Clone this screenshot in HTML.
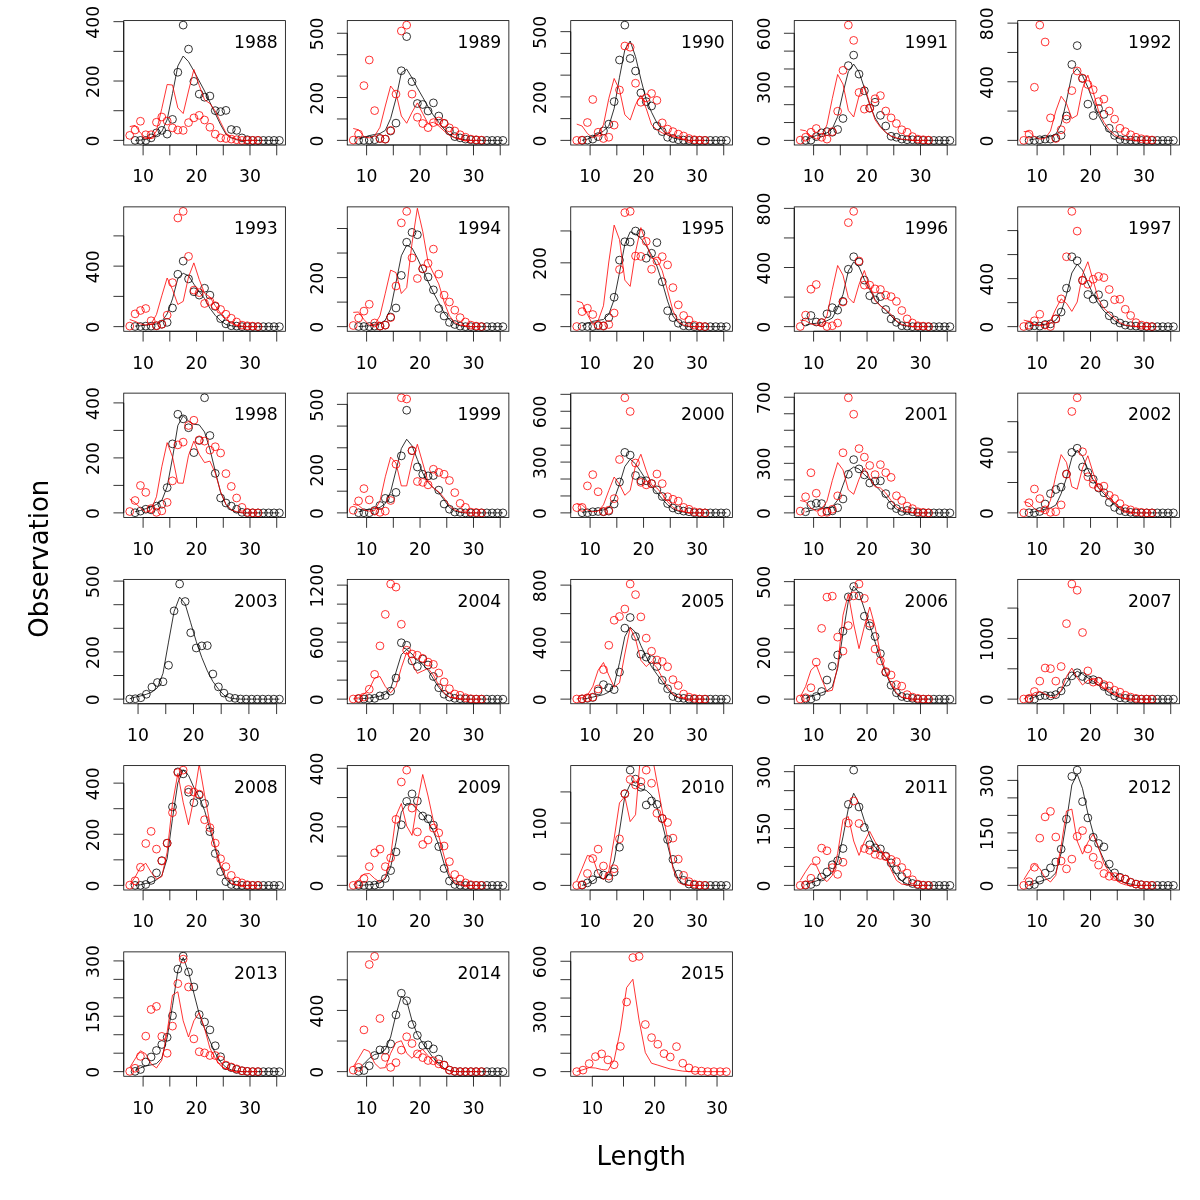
<!DOCTYPE html><html><head><meta charset="utf-8"><title>Length</title><style>html,body{margin:0;padding:0;background:#fff}svg{display:block}text{font-family:"DejaVu Sans","Liberation Sans",sans-serif;fill:#000}</style></head><body>
<svg width="1200" height="1200" viewBox="0 0 1200 1200">
<rect width="1200" height="1200" fill="#fff"/>
<defs>
<clipPath id="c0"><rect x="123.75" y="20.62" width="161.62" height="124.38"/></clipPath>
<clipPath id="c1"><rect x="347.25" y="20.62" width="161.62" height="124.38"/></clipPath>
<clipPath id="c2"><rect x="570.75" y="20.62" width="161.62" height="124.38"/></clipPath>
<clipPath id="c3"><rect x="794.25" y="20.62" width="161.62" height="124.38"/></clipPath>
<clipPath id="c4"><rect x="1017.75" y="20.62" width="161.62" height="124.38"/></clipPath>
<clipPath id="c5"><rect x="123.75" y="206.88" width="161.62" height="124.38"/></clipPath>
<clipPath id="c6"><rect x="347.25" y="206.88" width="161.62" height="124.38"/></clipPath>
<clipPath id="c7"><rect x="570.75" y="206.88" width="161.62" height="124.38"/></clipPath>
<clipPath id="c8"><rect x="794.25" y="206.88" width="161.62" height="124.38"/></clipPath>
<clipPath id="c9"><rect x="1017.75" y="206.88" width="161.62" height="124.38"/></clipPath>
<clipPath id="c10"><rect x="123.75" y="393.12" width="161.62" height="124.38"/></clipPath>
<clipPath id="c11"><rect x="347.25" y="393.12" width="161.62" height="124.38"/></clipPath>
<clipPath id="c12"><rect x="570.75" y="393.12" width="161.62" height="124.38"/></clipPath>
<clipPath id="c13"><rect x="794.25" y="393.12" width="161.62" height="124.38"/></clipPath>
<clipPath id="c14"><rect x="1017.75" y="393.12" width="161.62" height="124.38"/></clipPath>
<clipPath id="c15"><rect x="123.75" y="579.38" width="161.62" height="124.38"/></clipPath>
<clipPath id="c16"><rect x="347.25" y="579.38" width="161.62" height="124.38"/></clipPath>
<clipPath id="c17"><rect x="570.75" y="579.38" width="161.62" height="124.38"/></clipPath>
<clipPath id="c18"><rect x="794.25" y="579.38" width="161.62" height="124.38"/></clipPath>
<clipPath id="c19"><rect x="1017.75" y="579.38" width="161.62" height="124.38"/></clipPath>
<clipPath id="c20"><rect x="123.75" y="765.62" width="161.62" height="124.38"/></clipPath>
<clipPath id="c21"><rect x="347.25" y="765.62" width="161.62" height="124.38"/></clipPath>
<clipPath id="c22"><rect x="570.75" y="765.62" width="161.62" height="124.38"/></clipPath>
<clipPath id="c23"><rect x="794.25" y="765.62" width="161.62" height="124.38"/></clipPath>
<clipPath id="c24"><rect x="1017.75" y="765.62" width="161.62" height="124.38"/></clipPath>
<clipPath id="c25"><rect x="123.75" y="951.88" width="161.62" height="124.38"/></clipPath>
<clipPath id="c26"><rect x="347.25" y="951.88" width="161.62" height="124.38"/></clipPath>
<clipPath id="c27"><rect x="570.75" y="951.88" width="161.62" height="124.38"/></clipPath>
</defs>
<g fill="none" stroke-width="0.8">
<g clip-path="url(#c0)">
<g stroke="#000">
<circle cx="135.08" cy="140.38" r="3.9"/>
<circle cx="140.43" cy="140.38" r="3.9"/>
<circle cx="145.77" cy="140.38" r="3.9"/>
<circle cx="151.12" cy="137.88" r="3.9"/>
<circle cx="156.46" cy="132.88" r="3.9"/>
<circle cx="161.8" cy="130.38" r="3.9"/>
<circle cx="167.15" cy="134.12" r="3.9"/>
<circle cx="172.49" cy="119.38" r="3.9"/>
<circle cx="177.84" cy="72.25" r="3.9"/>
<circle cx="183.18" cy="25.12" r="3.9"/>
<circle cx="188.53" cy="49.12" r="3.9"/>
<circle cx="193.87" cy="81.38" r="3.9"/>
<circle cx="199.22" cy="94.12" r="3.9"/>
<circle cx="204.56" cy="97.25" r="3.9"/>
<circle cx="209.91" cy="96" r="3.9"/>
<circle cx="215.25" cy="110.62" r="3.9"/>
<circle cx="220.6" cy="111.62" r="3.9"/>
<circle cx="225.94" cy="110.38" r="3.9"/>
<circle cx="231.29" cy="129.5" r="3.9"/>
<circle cx="236.63" cy="130.38" r="3.9"/>
<circle cx="241.98" cy="137.88" r="3.9"/>
<circle cx="247.32" cy="139.75" r="3.9"/>
<circle cx="252.67" cy="140.39" r="3.9"/>
<circle cx="258.01" cy="140.39" r="3.9"/>
<circle cx="263.35" cy="140.39" r="3.9"/>
<circle cx="268.7" cy="140.39" r="3.9"/>
<circle cx="274.04" cy="140.39" r="3.9"/>
<circle cx="279.39" cy="140.39" r="3.9"/>
</g>
<polyline stroke="#000" points="135.08,140.38 140.43,140.12 145.77,139.5 151.12,137.25 156.46,135.38 161.8,131.62 167.15,119.75 172.49,93.5 177.84,66 183.18,56 188.53,61.62 193.87,71 199.22,81 204.56,91 209.91,102.25 215.25,113.5 220.6,124.75 225.94,134.12 231.29,137.88 236.63,139.75 241.98,140.39 247.32,140.39 252.67,140.39 258.01,140.39 263.35,140.39 268.7,140.39 274.04,140.39 279.39,140.39"/>
<g stroke="#f00">
<circle cx="129.74" cy="135.38" r="3.9"/>
<circle cx="135.08" cy="130" r="3.9"/>
<circle cx="140.43" cy="121.25" r="3.9"/>
<circle cx="145.77" cy="134.75" r="3.9"/>
<circle cx="151.12" cy="134.75" r="3.9"/>
<circle cx="156.46" cy="122.25" r="3.9"/>
<circle cx="161.8" cy="117" r="3.9"/>
<circle cx="167.15" cy="121" r="3.9"/>
<circle cx="172.49" cy="127.88" r="3.9"/>
<circle cx="177.84" cy="130" r="3.9"/>
<circle cx="183.18" cy="130.38" r="3.9"/>
<circle cx="188.53" cy="122.62" r="3.9"/>
<circle cx="193.87" cy="117.88" r="3.9"/>
<circle cx="199.22" cy="115.38" r="3.9"/>
<circle cx="204.56" cy="120" r="3.9"/>
<circle cx="209.91" cy="127.25" r="3.9"/>
<circle cx="215.25" cy="134.12" r="3.9"/>
<circle cx="220.6" cy="137.88" r="3.9"/>
<circle cx="225.94" cy="138.5" r="3.9"/>
<circle cx="231.29" cy="139.12" r="3.9"/>
<circle cx="236.63" cy="139.75" r="3.9"/>
<circle cx="241.98" cy="140.39" r="3.9"/>
<circle cx="247.32" cy="140.39" r="3.9"/>
<circle cx="252.67" cy="140.39" r="3.9"/>
<circle cx="258.01" cy="140.39" r="3.9"/>
</g>
<polyline stroke="#f00" points="129.74,126.62 135.08,125.38 140.43,132.88 145.77,137.88 151.12,138.5 156.46,131 161.8,108.5 167.15,84.5 172.49,85 177.84,107.88 183.18,113.5 188.53,91 193.87,69.5 199.22,85.38 204.56,99.75 209.91,103.5 215.25,111 220.6,122.25 225.94,132.88 231.29,137.25 236.63,139.12 241.98,140.39 247.32,140.39 252.67,140.39 258.01,140.39"/>
</g>
<rect x="123.75" y="20.62" width="161.62" height="124.38" stroke="#000"/>
<path stroke="#000" d="M143.1 145v10.31M169.82 145v10.31M196.55 145v10.31M223.27 145v10.31M249.99 145v10.31M276.72 145v10.31M143.1 145H276.72M123.75 140.39h-10.31M123.75 110.71h-10.31M123.75 81.03h-10.31M123.75 51.35h-10.31M123.75 21.67h-10.31M123.75 140.39V21.67"/>
</g>
<g font-size="17.2" text-anchor="middle">
<text x="143.1" y="182.43">10</text>
<text x="196.55" y="182.43">20</text>
<text x="249.99" y="182.43">30</text>
<text transform="translate(99.4 140.99) rotate(-90)">0</text>
<text transform="translate(99.4 81.63) rotate(-90)">200</text>
<text transform="translate(99.4 22.27) rotate(-90)">400</text>
<text x="277.77" y="47.83" text-anchor="end">1988</text>
</g>
<g fill="none" stroke-width="0.8">
<g clip-path="url(#c1)">
<g stroke="#000">
<circle cx="358.58" cy="140.38" r="3.9"/>
<circle cx="363.93" cy="140.38" r="3.9"/>
<circle cx="369.27" cy="140" r="3.9"/>
<circle cx="374.62" cy="139.75" r="3.9"/>
<circle cx="379.96" cy="138.5" r="3.9"/>
<circle cx="385.3" cy="139.12" r="3.9"/>
<circle cx="390.65" cy="131" r="3.9"/>
<circle cx="395.99" cy="123.12" r="3.9"/>
<circle cx="401.34" cy="70.75" r="3.9"/>
<circle cx="406.68" cy="36.62" r="3.9"/>
<circle cx="412.03" cy="81.62" r="3.9"/>
<circle cx="417.37" cy="103.5" r="3.9"/>
<circle cx="422.72" cy="104.5" r="3.9"/>
<circle cx="428.06" cy="111" r="3.9"/>
<circle cx="433.41" cy="102.88" r="3.9"/>
<circle cx="438.75" cy="116" r="3.9"/>
<circle cx="444.1" cy="123.5" r="3.9"/>
<circle cx="449.44" cy="131" r="3.9"/>
<circle cx="454.79" cy="136.62" r="3.9"/>
<circle cx="460.13" cy="137.88" r="3.9"/>
<circle cx="465.48" cy="139.12" r="3.9"/>
<circle cx="470.82" cy="139.75" r="3.9"/>
<circle cx="476.17" cy="140.12" r="3.9"/>
<circle cx="481.51" cy="140.39" r="3.9"/>
<circle cx="486.85" cy="140.39" r="3.9"/>
<circle cx="492.2" cy="140.39" r="3.9"/>
<circle cx="497.54" cy="140.39" r="3.9"/>
<circle cx="502.89" cy="140.39" r="3.9"/>
</g>
<polyline stroke="#000" points="358.58,139.12 363.93,137.25 369.27,135.62 374.62,134.5 379.96,133.5 385.3,130.38 390.65,118.5 395.99,98.5 401.34,72.88 406.68,69.12 412.03,77.88 417.37,87.88 422.72,97.25 428.06,106.62 433.41,115.38 438.75,122.25 444.1,129.12 449.44,134.75 454.79,137.5 460.13,139.12 465.48,139.75 470.82,140.39 476.17,140.39 481.51,140.39 486.85,140.39 492.2,140.39 497.54,140.39 502.89,140.39"/>
<g stroke="#f00">
<circle cx="353.24" cy="140.12" r="3.9"/>
<circle cx="358.58" cy="134.12" r="3.9"/>
<circle cx="363.93" cy="85.62" r="3.9"/>
<circle cx="369.27" cy="60" r="3.9"/>
<circle cx="374.62" cy="110.62" r="3.9"/>
<circle cx="379.96" cy="138.5" r="3.9"/>
<circle cx="385.3" cy="139.12" r="3.9"/>
<circle cx="390.65" cy="130.38" r="3.9"/>
<circle cx="395.99" cy="94.12" r="3.9"/>
<circle cx="401.34" cy="31" r="3.9"/>
<circle cx="406.68" cy="25.12" r="3.9"/>
<circle cx="412.03" cy="94.12" r="3.9"/>
<circle cx="417.37" cy="117.25" r="3.9"/>
<circle cx="422.72" cy="123.5" r="3.9"/>
<circle cx="428.06" cy="127.62" r="3.9"/>
<circle cx="433.41" cy="122.62" r="3.9"/>
<circle cx="438.75" cy="121" r="3.9"/>
<circle cx="444.1" cy="123.25" r="3.9"/>
<circle cx="449.44" cy="127.88" r="3.9"/>
<circle cx="454.79" cy="131" r="3.9"/>
<circle cx="460.13" cy="134.75" r="3.9"/>
<circle cx="465.48" cy="137.25" r="3.9"/>
<circle cx="470.82" cy="139.12" r="3.9"/>
<circle cx="476.17" cy="139.75" r="3.9"/>
<circle cx="481.51" cy="140.12" r="3.9"/>
</g>
<polyline stroke="#f00" points="353.24,128.5 358.58,129.75 363.93,136.62 369.27,137.88 374.62,136 379.96,127.25 385.3,106 390.65,86 395.99,92.88 401.34,116 406.68,123.25 412.03,112.25 417.37,102.88 422.72,113.5 428.06,123.5 433.41,122.25 438.75,126 444.1,131 449.44,135.38 454.79,137.88 460.13,139.5 465.48,140.39 470.82,140.39 476.17,140.39 481.51,140.39"/>
</g>
<rect x="347.25" y="20.62" width="161.62" height="124.38" stroke="#000"/>
<path stroke="#000" d="M366.6 145v10.31M393.32 145v10.31M420.05 145v10.31M446.77 145v10.31M473.49 145v10.31M500.22 145v10.31M366.6 145H500.22M347.25 140.39h-10.31M347.25 118.96h-10.31M347.25 97.53h-10.31M347.25 76.11h-10.31M347.25 54.68h-10.31M347.25 33.25h-10.31M347.25 140.39V33.25"/>
</g>
<g font-size="17.2" text-anchor="middle">
<text x="366.6" y="182.43">10</text>
<text x="420.05" y="182.43">20</text>
<text x="473.49" y="182.43">30</text>
<text transform="translate(322.9 140.99) rotate(-90)">0</text>
<text transform="translate(322.9 98.13) rotate(-90)">200</text>
<text transform="translate(322.9 33.85) rotate(-90)">500</text>
<text x="501.27" y="47.83" text-anchor="end">1989</text>
</g>
<g fill="none" stroke-width="0.8">
<g clip-path="url(#c2)">
<g stroke="#000">
<circle cx="582.08" cy="140.38" r="3.9"/>
<circle cx="587.43" cy="140.12" r="3.9"/>
<circle cx="592.77" cy="139.12" r="3.9"/>
<circle cx="598.12" cy="136.62" r="3.9"/>
<circle cx="603.46" cy="131" r="3.9"/>
<circle cx="608.8" cy="124.12" r="3.9"/>
<circle cx="614.15" cy="101.62" r="3.9"/>
<circle cx="619.49" cy="60" r="3.9"/>
<circle cx="624.84" cy="25.12" r="3.9"/>
<circle cx="630.18" cy="58.5" r="3.9"/>
<circle cx="635.53" cy="71" r="3.9"/>
<circle cx="640.87" cy="92.88" r="3.9"/>
<circle cx="646.22" cy="101.62" r="3.9"/>
<circle cx="651.56" cy="106" r="3.9"/>
<circle cx="656.91" cy="126" r="3.9"/>
<circle cx="662.25" cy="131.62" r="3.9"/>
<circle cx="667.6" cy="137.25" r="3.9"/>
<circle cx="672.94" cy="138.5" r="3.9"/>
<circle cx="678.29" cy="139.75" r="3.9"/>
<circle cx="683.63" cy="140.12" r="3.9"/>
<circle cx="688.98" cy="140.39" r="3.9"/>
<circle cx="694.32" cy="140.39" r="3.9"/>
<circle cx="699.67" cy="140.39" r="3.9"/>
<circle cx="705.01" cy="140.39" r="3.9"/>
<circle cx="710.35" cy="140.39" r="3.9"/>
<circle cx="715.7" cy="140.39" r="3.9"/>
<circle cx="721.04" cy="140.39" r="3.9"/>
<circle cx="726.39" cy="140.39" r="3.9"/>
</g>
<polyline stroke="#000" points="582.08,140.38 587.43,139.12 592.77,136.62 598.12,134.12 603.46,131 608.8,126 614.15,108.5 619.49,77.25 624.84,49.75 630.18,41 635.53,56.62 640.87,79.12 646.22,99.75 651.56,112.25 656.91,122.88 662.25,130 667.6,135.12 672.94,137.88 678.29,139.12 683.63,139.75 688.98,140.39 694.32,140.39 699.67,140.39 705.01,140.39 710.35,140.39 715.7,140.39 721.04,140.39 726.39,140.39"/>
<g stroke="#f00">
<circle cx="576.74" cy="140.38" r="3.9"/>
<circle cx="582.08" cy="140.12" r="3.9"/>
<circle cx="587.43" cy="122.5" r="3.9"/>
<circle cx="592.77" cy="99.5" r="3.9"/>
<circle cx="598.12" cy="132.25" r="3.9"/>
<circle cx="603.46" cy="138.5" r="3.9"/>
<circle cx="608.8" cy="137.25" r="3.9"/>
<circle cx="614.15" cy="125.12" r="3.9"/>
<circle cx="619.49" cy="90" r="3.9"/>
<circle cx="624.84" cy="46" r="3.9"/>
<circle cx="630.18" cy="47.25" r="3.9"/>
<circle cx="635.53" cy="83.25" r="3.9"/>
<circle cx="640.87" cy="102.25" r="3.9"/>
<circle cx="646.22" cy="97.88" r="3.9"/>
<circle cx="651.56" cy="93.5" r="3.9"/>
<circle cx="656.91" cy="100.38" r="3.9"/>
<circle cx="662.25" cy="122.88" r="3.9"/>
<circle cx="667.6" cy="129.12" r="3.9"/>
<circle cx="672.94" cy="131.62" r="3.9"/>
<circle cx="678.29" cy="134.12" r="3.9"/>
<circle cx="683.63" cy="136" r="3.9"/>
<circle cx="688.98" cy="138.5" r="3.9"/>
<circle cx="694.32" cy="139.75" r="3.9"/>
<circle cx="699.67" cy="140.12" r="3.9"/>
<circle cx="705.01" cy="140.39" r="3.9"/>
</g>
<polyline stroke="#f00" points="576.74,124.12 582.08,126 587.43,133.5 592.77,137.88 598.12,134.75 603.46,124.75 608.8,98.5 614.15,78.5 619.49,89.75 624.84,114.75 630.18,120 635.53,104.75 640.87,95.38 646.22,108.5 651.56,124.75 656.91,129.75 662.25,132.88 667.6,134.75 672.94,136.62 678.29,137.88 683.63,139.12 688.98,140.39 694.32,140.39 699.67,140.39 705.01,140.39"/>
</g>
<rect x="570.75" y="20.62" width="161.62" height="124.38" stroke="#000"/>
<path stroke="#000" d="M590.1 145v10.31M616.82 145v10.31M643.55 145v10.31M670.27 145v10.31M696.99 145v10.31M723.72 145v10.31M590.1 145H723.72M570.75 140.39h-10.31M570.75 118.64h-10.31M570.75 96.9h-10.31M570.75 75.15h-10.31M570.75 53.4h-10.31M570.75 31.65h-10.31M570.75 140.39V31.65"/>
</g>
<g font-size="17.2" text-anchor="middle">
<text x="590.1" y="182.43">10</text>
<text x="643.55" y="182.43">20</text>
<text x="696.99" y="182.43">30</text>
<text transform="translate(546.4 140.99) rotate(-90)">0</text>
<text transform="translate(546.4 97.5) rotate(-90)">200</text>
<text transform="translate(546.4 32.25) rotate(-90)">500</text>
<text x="724.77" y="47.83" text-anchor="end">1990</text>
</g>
<g fill="none" stroke-width="0.8">
<g clip-path="url(#c3)">
<g stroke="#000">
<circle cx="805.58" cy="140.38" r="3.9"/>
<circle cx="810.93" cy="140.12" r="3.9"/>
<circle cx="816.27" cy="136.62" r="3.9"/>
<circle cx="821.62" cy="132.88" r="3.9"/>
<circle cx="826.96" cy="131.62" r="3.9"/>
<circle cx="832.3" cy="132.25" r="3.9"/>
<circle cx="837.65" cy="129.5" r="3.9"/>
<circle cx="842.99" cy="118.5" r="3.9"/>
<circle cx="848.34" cy="65.62" r="3.9"/>
<circle cx="853.68" cy="55.12" r="3.9"/>
<circle cx="859.03" cy="74.12" r="3.9"/>
<circle cx="864.37" cy="90.75" r="3.9"/>
<circle cx="869.72" cy="108.25" r="3.9"/>
<circle cx="875.06" cy="102.25" r="3.9"/>
<circle cx="880.41" cy="115.38" r="3.9"/>
<circle cx="885.75" cy="126" r="3.9"/>
<circle cx="891.1" cy="136.25" r="3.9"/>
<circle cx="896.44" cy="137.25" r="3.9"/>
<circle cx="901.79" cy="139.12" r="3.9"/>
<circle cx="907.13" cy="139.75" r="3.9"/>
<circle cx="912.48" cy="139.75" r="3.9"/>
<circle cx="917.82" cy="140.12" r="3.9"/>
<circle cx="923.17" cy="140.39" r="3.9"/>
<circle cx="928.51" cy="140.39" r="3.9"/>
<circle cx="933.85" cy="140.39" r="3.9"/>
<circle cx="939.2" cy="140.39" r="3.9"/>
<circle cx="944.54" cy="140.39" r="3.9"/>
<circle cx="949.89" cy="140.39" r="3.9"/>
</g>
<polyline stroke="#000" points="805.58,140.12 810.93,137.88 816.27,135.38 821.62,134.12 826.96,132.88 832.3,128.75 837.65,116.62 842.99,92.88 848.34,71.62 853.68,64.12 859.03,72 864.37,87.88 869.72,104.75 875.06,117.88 880.41,126.38 885.75,132.5 891.1,136.25 896.44,138.25 901.79,139.5 907.13,140 912.48,140.39 917.82,140.39 923.17,140.39 928.51,140.39 933.85,140.39 939.2,140.39 944.54,140.39 949.89,140.39"/>
<g stroke="#f00">
<circle cx="800.24" cy="140.12" r="3.9"/>
<circle cx="805.58" cy="137.25" r="3.9"/>
<circle cx="810.93" cy="132.25" r="3.9"/>
<circle cx="816.27" cy="128.5" r="3.9"/>
<circle cx="821.62" cy="137.25" r="3.9"/>
<circle cx="826.96" cy="139.12" r="3.9"/>
<circle cx="832.3" cy="131.62" r="3.9"/>
<circle cx="837.65" cy="111.25" r="3.9"/>
<circle cx="842.99" cy="70.38" r="3.9"/>
<circle cx="848.34" cy="25.12" r="3.9"/>
<circle cx="853.68" cy="40.38" r="3.9"/>
<circle cx="859.03" cy="92.5" r="3.9"/>
<circle cx="864.37" cy="109.12" r="3.9"/>
<circle cx="869.72" cy="107.88" r="3.9"/>
<circle cx="875.06" cy="98.75" r="3.9"/>
<circle cx="880.41" cy="95.62" r="3.9"/>
<circle cx="885.75" cy="111" r="3.9"/>
<circle cx="891.1" cy="117.88" r="3.9"/>
<circle cx="896.44" cy="123.5" r="3.9"/>
<circle cx="901.79" cy="129.75" r="3.9"/>
<circle cx="907.13" cy="132.25" r="3.9"/>
<circle cx="912.48" cy="136.62" r="3.9"/>
<circle cx="917.82" cy="139.12" r="3.9"/>
<circle cx="923.17" cy="139.75" r="3.9"/>
<circle cx="928.51" cy="140.12" r="3.9"/>
</g>
<polyline stroke="#f00" points="800.24,129.75 805.58,130.75 810.93,136 816.27,139.12 821.62,136.62 826.96,124.75 832.3,98.5 837.65,74.5 842.99,84.12 848.34,110.38 853.68,117 859.03,96 864.37,85.75 869.72,103.5 875.06,119.75 880.41,127.25 885.75,132.25 891.1,136 896.44,137.88 901.79,139.12 907.13,139.75 912.48,140.39 917.82,140.39 923.17,140.39 928.51,140.39"/>
</g>
<rect x="794.25" y="20.62" width="161.62" height="124.38" stroke="#000"/>
<path stroke="#000" d="M813.6 145v10.31M840.32 145v10.31M867.05 145v10.31M893.77 145v10.31M920.49 145v10.31M947.22 145v10.31M813.6 145H947.22M794.25 140.39h-10.31M794.25 122.54h-10.31M794.25 104.68h-10.31M794.25 86.83h-10.31M794.25 68.98h-10.31M794.25 51.12h-10.31M794.25 33.27h-10.31M794.25 140.39V33.27"/>
</g>
<g font-size="17.2" text-anchor="middle">
<text x="813.6" y="182.43">10</text>
<text x="867.05" y="182.43">20</text>
<text x="920.49" y="182.43">30</text>
<text transform="translate(769.9 140.99) rotate(-90)">0</text>
<text transform="translate(769.9 87.43) rotate(-90)">300</text>
<text transform="translate(769.9 33.87) rotate(-90)">600</text>
<text x="948.27" y="47.83" text-anchor="end">1991</text>
</g>
<g fill="none" stroke-width="0.8">
<g clip-path="url(#c4)">
<g stroke="#000">
<circle cx="1029.08" cy="140.38" r="3.9"/>
<circle cx="1034.43" cy="140.38" r="3.9"/>
<circle cx="1039.77" cy="139.75" r="3.9"/>
<circle cx="1045.12" cy="139.12" r="3.9"/>
<circle cx="1050.46" cy="139.12" r="3.9"/>
<circle cx="1055.8" cy="137.88" r="3.9"/>
<circle cx="1061.15" cy="135.38" r="3.9"/>
<circle cx="1066.49" cy="116" r="3.9"/>
<circle cx="1071.84" cy="64.5" r="3.9"/>
<circle cx="1077.18" cy="45.62" r="3.9"/>
<circle cx="1082.53" cy="78.5" r="3.9"/>
<circle cx="1087.87" cy="104.12" r="3.9"/>
<circle cx="1093.22" cy="115.62" r="3.9"/>
<circle cx="1098.56" cy="108.5" r="3.9"/>
<circle cx="1103.91" cy="114.38" r="3.9"/>
<circle cx="1109.25" cy="128.25" r="3.9"/>
<circle cx="1114.6" cy="135.38" r="3.9"/>
<circle cx="1119.94" cy="139.5" r="3.9"/>
<circle cx="1125.29" cy="139.75" r="3.9"/>
<circle cx="1130.63" cy="140.12" r="3.9"/>
<circle cx="1135.98" cy="140.39" r="3.9"/>
<circle cx="1141.32" cy="140.39" r="3.9"/>
<circle cx="1146.67" cy="140.39" r="3.9"/>
<circle cx="1152.01" cy="140.39" r="3.9"/>
<circle cx="1157.35" cy="140.39" r="3.9"/>
<circle cx="1162.7" cy="140.39" r="3.9"/>
<circle cx="1168.04" cy="140.39" r="3.9"/>
<circle cx="1173.39" cy="140.39" r="3.9"/>
</g>
<polyline stroke="#000" points="1029.08,140.12 1034.43,139.12 1039.77,137.88 1045.12,137.25 1050.46,136.62 1055.8,134.38 1061.15,124.12 1066.49,101 1071.84,74.75 1077.18,68.5 1082.53,75.75 1087.87,87.25 1093.22,101.62 1098.56,115.38 1103.91,125.38 1109.25,132.25 1114.6,136.62 1119.94,138.88 1125.29,139.75 1130.63,140.39 1135.98,140.39 1141.32,140.39 1146.67,140.39 1152.01,140.39 1157.35,140.39 1162.7,140.39 1168.04,140.39 1173.39,140.39"/>
<g stroke="#f00">
<circle cx="1023.74" cy="140.38" r="3.9"/>
<circle cx="1029.08" cy="134.12" r="3.9"/>
<circle cx="1034.43" cy="87.25" r="3.9"/>
<circle cx="1039.77" cy="25.12" r="3.9"/>
<circle cx="1045.12" cy="42" r="3.9"/>
<circle cx="1050.46" cy="117.88" r="3.9"/>
<circle cx="1055.8" cy="138.5" r="3.9"/>
<circle cx="1061.15" cy="129.75" r="3.9"/>
<circle cx="1066.49" cy="119.12" r="3.9"/>
<circle cx="1071.84" cy="90.62" r="3.9"/>
<circle cx="1077.18" cy="71" r="3.9"/>
<circle cx="1082.53" cy="78.12" r="3.9"/>
<circle cx="1087.87" cy="84.5" r="3.9"/>
<circle cx="1093.22" cy="89.75" r="3.9"/>
<circle cx="1098.56" cy="101.62" r="3.9"/>
<circle cx="1103.91" cy="99.12" r="3.9"/>
<circle cx="1109.25" cy="111" r="3.9"/>
<circle cx="1114.6" cy="119.12" r="3.9"/>
<circle cx="1119.94" cy="128.25" r="3.9"/>
<circle cx="1125.29" cy="131.62" r="3.9"/>
<circle cx="1130.63" cy="134.75" r="3.9"/>
<circle cx="1135.98" cy="137.25" r="3.9"/>
<circle cx="1141.32" cy="138.75" r="3.9"/>
<circle cx="1146.67" cy="139.5" r="3.9"/>
<circle cx="1152.01" cy="140" r="3.9"/>
</g>
<polyline stroke="#f00" points="1023.74,131.62 1029.08,131.62 1034.43,136.62 1039.77,139.12 1045.12,138.5 1050.46,131 1055.8,111 1061.15,96.25 1066.49,103.5 1071.84,118.5 1077.18,115.38 1082.53,88.5 1087.87,75.12 1093.22,92.25 1098.56,111 1103.91,122.25 1109.25,129.75 1114.6,134.75 1119.94,137.5 1125.29,139.12 1130.63,139.75 1135.98,140.39 1141.32,140.39 1146.67,140.39 1152.01,140.39"/>
</g>
<rect x="1017.75" y="20.62" width="161.62" height="124.38" stroke="#000"/>
<path stroke="#000" d="M1037.1 145v10.31M1063.82 145v10.31M1090.55 145v10.31M1117.27 145v10.31M1143.99 145v10.31M1170.72 145v10.31M1037.1 145H1170.72M1017.75 140.39h-10.31M1017.75 111.08h-10.31M1017.75 81.76h-10.31M1017.75 52.45h-10.31M1017.75 23.14h-10.31M1017.75 140.39V23.14"/>
</g>
<g font-size="17.2" text-anchor="middle">
<text x="1037.1" y="182.43">10</text>
<text x="1090.55" y="182.43">20</text>
<text x="1143.99" y="182.43">30</text>
<text transform="translate(993.4 140.99) rotate(-90)">0</text>
<text transform="translate(993.4 82.36) rotate(-90)">400</text>
<text transform="translate(993.4 23.74) rotate(-90)">800</text>
<text x="1171.78" y="47.83" text-anchor="end">1992</text>
</g>
<g fill="none" stroke-width="0.8">
<g clip-path="url(#c5)">
<g stroke="#000">
<circle cx="135.08" cy="326.5" r="3.9"/>
<circle cx="140.43" cy="326.5" r="3.9"/>
<circle cx="145.77" cy="326.12" r="3.9"/>
<circle cx="151.12" cy="326.12" r="3.9"/>
<circle cx="156.46" cy="325.75" r="3.9"/>
<circle cx="161.8" cy="324.25" r="3.9"/>
<circle cx="167.15" cy="322.38" r="3.9"/>
<circle cx="172.49" cy="308" r="3.9"/>
<circle cx="177.84" cy="274.25" r="3.9"/>
<circle cx="183.18" cy="261.12" r="3.9"/>
<circle cx="188.53" cy="278.88" r="3.9"/>
<circle cx="193.87" cy="291.75" r="3.9"/>
<circle cx="199.22" cy="295.12" r="3.9"/>
<circle cx="204.56" cy="288.25" r="3.9"/>
<circle cx="209.91" cy="295.12" r="3.9"/>
<circle cx="215.25" cy="306.38" r="3.9"/>
<circle cx="220.6" cy="318.62" r="3.9"/>
<circle cx="225.94" cy="323.88" r="3.9"/>
<circle cx="231.29" cy="325.75" r="3.9"/>
<circle cx="236.63" cy="326.12" r="3.9"/>
<circle cx="241.98" cy="326.64" r="3.9"/>
<circle cx="247.32" cy="326.64" r="3.9"/>
<circle cx="252.67" cy="326.64" r="3.9"/>
<circle cx="258.01" cy="326.64" r="3.9"/>
<circle cx="263.35" cy="326.64" r="3.9"/>
<circle cx="268.7" cy="326.64" r="3.9"/>
<circle cx="274.04" cy="326.64" r="3.9"/>
<circle cx="279.39" cy="326.64" r="3.9"/>
</g>
<polyline stroke="#000" points="135.08,326.12 140.43,325.75 145.77,325.12 151.12,324.5 156.46,323.88 161.8,321.38 167.15,313.88 172.49,298.88 177.84,278.5 183.18,273.25 188.53,275.75 193.87,284.12 199.22,291.62 204.56,298.5 209.91,308.25 215.25,315.38 220.6,320.75 225.94,324.5 231.29,325.75 236.63,326.64 241.98,326.64 247.32,326.64 252.67,326.64 258.01,326.64 263.35,326.64 268.7,326.64 274.04,326.64 279.39,326.64"/>
<g stroke="#f00">
<circle cx="129.74" cy="326.12" r="3.9"/>
<circle cx="135.08" cy="313.88" r="3.9"/>
<circle cx="140.43" cy="310.5" r="3.9"/>
<circle cx="145.77" cy="308.5" r="3.9"/>
<circle cx="151.12" cy="320.75" r="3.9"/>
<circle cx="156.46" cy="325.75" r="3.9"/>
<circle cx="161.8" cy="324.25" r="3.9"/>
<circle cx="167.15" cy="315.12" r="3.9"/>
<circle cx="172.49" cy="282.62" r="3.9"/>
<circle cx="177.84" cy="218" r="3.9"/>
<circle cx="183.18" cy="211.38" r="3.9"/>
<circle cx="188.53" cy="256.38" r="3.9"/>
<circle cx="193.87" cy="290.12" r="3.9"/>
<circle cx="199.22" cy="292.62" r="3.9"/>
<circle cx="204.56" cy="303.5" r="3.9"/>
<circle cx="209.91" cy="301.38" r="3.9"/>
<circle cx="215.25" cy="305.75" r="3.9"/>
<circle cx="220.6" cy="309.5" r="3.9"/>
<circle cx="225.94" cy="314.25" r="3.9"/>
<circle cx="231.29" cy="318.25" r="3.9"/>
<circle cx="236.63" cy="322" r="3.9"/>
<circle cx="241.98" cy="325.12" r="3.9"/>
<circle cx="247.32" cy="325.75" r="3.9"/>
<circle cx="252.67" cy="326.12" r="3.9"/>
<circle cx="258.01" cy="326.64" r="3.9"/>
</g>
<polyline stroke="#f00" points="129.74,319.5 135.08,321.38 140.43,323.88 145.77,325.12 151.12,323.88 156.46,314.5 161.8,295.75 167.15,278 172.49,289.5 177.84,304.5 183.18,301.38 188.53,277 193.87,262.88 199.22,279.5 204.56,293.25 209.91,297 215.25,305.75 220.6,313.25 225.94,319.5 231.29,323.25 236.63,325.12 241.98,326.12 247.32,326.64 252.67,326.64 258.01,326.64"/>
</g>
<rect x="123.75" y="206.88" width="161.62" height="124.38" stroke="#000"/>
<path stroke="#000" d="M143.1 331.25v10.31M169.82 331.25v10.31M196.55 331.25v10.31M223.27 331.25v10.31M249.99 331.25v10.31M276.72 331.25v10.31M143.1 331.25H276.72M123.75 326.64h-10.31M123.75 296.39h-10.31M123.75 266.14h-10.31M123.75 235.89h-10.31M123.75 326.64V235.89"/>
</g>
<g font-size="17.2" text-anchor="middle">
<text x="143.1" y="368.68">10</text>
<text x="196.55" y="368.68">20</text>
<text x="249.99" y="368.68">30</text>
<text transform="translate(99.4 327.24) rotate(-90)">0</text>
<text transform="translate(99.4 266.74) rotate(-90)">400</text>
<text x="277.77" y="234.07" text-anchor="end">1993</text>
</g>
<g fill="none" stroke-width="0.8">
<g clip-path="url(#c6)">
<g stroke="#000">
<circle cx="358.58" cy="326.5" r="3.9"/>
<circle cx="363.93" cy="326.5" r="3.9"/>
<circle cx="369.27" cy="326.5" r="3.9"/>
<circle cx="374.62" cy="326.12" r="3.9"/>
<circle cx="379.96" cy="326.12" r="3.9"/>
<circle cx="385.3" cy="325.12" r="3.9"/>
<circle cx="390.65" cy="317" r="3.9"/>
<circle cx="395.99" cy="308" r="3.9"/>
<circle cx="401.34" cy="275.38" r="3.9"/>
<circle cx="406.68" cy="242.25" r="3.9"/>
<circle cx="412.03" cy="232.38" r="3.9"/>
<circle cx="417.37" cy="234.75" r="3.9"/>
<circle cx="422.72" cy="268.88" r="3.9"/>
<circle cx="428.06" cy="277" r="3.9"/>
<circle cx="433.41" cy="289.88" r="3.9"/>
<circle cx="438.75" cy="308.5" r="3.9"/>
<circle cx="444.1" cy="316" r="3.9"/>
<circle cx="449.44" cy="322.38" r="3.9"/>
<circle cx="454.79" cy="324.5" r="3.9"/>
<circle cx="460.13" cy="326.12" r="3.9"/>
<circle cx="465.48" cy="326.64" r="3.9"/>
<circle cx="470.82" cy="326.64" r="3.9"/>
<circle cx="476.17" cy="326.64" r="3.9"/>
<circle cx="481.51" cy="326.64" r="3.9"/>
<circle cx="486.85" cy="326.64" r="3.9"/>
<circle cx="492.2" cy="326.64" r="3.9"/>
<circle cx="497.54" cy="326.64" r="3.9"/>
<circle cx="502.89" cy="326.64" r="3.9"/>
</g>
<polyline stroke="#000" points="358.58,326.5 363.93,326.25 369.27,325.75 374.62,325.12 379.96,323.88 385.3,320.12 390.65,308.88 395.99,282.62 401.34,255.75 406.68,245.12 412.03,248 417.37,258 422.72,269.88 428.06,281.62 433.41,292.62 438.75,302.62 444.1,312.88 449.44,319.75 454.79,323.88 460.13,325.75 465.48,326.64 470.82,326.64 476.17,326.64 481.51,326.64 486.85,326.64 492.2,326.64 497.54,326.64 502.89,326.64"/>
<g stroke="#f00">
<circle cx="353.24" cy="325.5" r="3.9"/>
<circle cx="358.58" cy="318" r="3.9"/>
<circle cx="363.93" cy="311.12" r="3.9"/>
<circle cx="369.27" cy="304.25" r="3.9"/>
<circle cx="374.62" cy="323" r="3.9"/>
<circle cx="379.96" cy="326.12" r="3.9"/>
<circle cx="385.3" cy="325.12" r="3.9"/>
<circle cx="390.65" cy="317.62" r="3.9"/>
<circle cx="395.99" cy="286" r="3.9"/>
<circle cx="401.34" cy="222.88" r="3.9"/>
<circle cx="406.68" cy="211.38" r="3.9"/>
<circle cx="412.03" cy="257.88" r="3.9"/>
<circle cx="417.37" cy="278.5" r="3.9"/>
<circle cx="422.72" cy="268.62" r="3.9"/>
<circle cx="428.06" cy="263.25" r="3.9"/>
<circle cx="433.41" cy="249.12" r="3.9"/>
<circle cx="438.75" cy="274.12" r="3.9"/>
<circle cx="444.1" cy="295.12" r="3.9"/>
<circle cx="449.44" cy="302" r="3.9"/>
<circle cx="454.79" cy="310.12" r="3.9"/>
<circle cx="460.13" cy="317.62" r="3.9"/>
<circle cx="465.48" cy="322" r="3.9"/>
<circle cx="470.82" cy="325.12" r="3.9"/>
<circle cx="476.17" cy="326.12" r="3.9"/>
<circle cx="481.51" cy="326.64" r="3.9"/>
</g>
<polyline stroke="#f00" points="353.24,312.38 358.58,312 363.93,319.5 369.27,325.12 374.62,324.5 379.96,315.75 385.3,293.25 390.65,270.12 395.99,272.62 401.34,293.5 406.68,287.62 412.03,243.25 417.37,208.25 422.72,231.38 428.06,262 433.41,273.25 438.75,283.88 444.1,302 449.44,315.75 454.79,322.62 460.13,325.12 465.48,326.12 470.82,326.64 476.17,326.64 481.51,326.64"/>
</g>
<rect x="347.25" y="206.88" width="161.62" height="124.38" stroke="#000"/>
<path stroke="#000" d="M366.6 331.25v10.31M393.32 331.25v10.31M420.05 331.25v10.31M446.77 331.25v10.31M473.49 331.25v10.31M500.22 331.25v10.31M366.6 331.25H500.22M347.25 326.64h-10.31M347.25 302.11h-10.31M347.25 277.58h-10.31M347.25 253.04h-10.31M347.25 228.51h-10.31M347.25 326.64V228.51"/>
</g>
<g font-size="17.2" text-anchor="middle">
<text x="366.6" y="368.68">10</text>
<text x="420.05" y="368.68">20</text>
<text x="473.49" y="368.68">30</text>
<text transform="translate(322.9 327.24) rotate(-90)">0</text>
<text transform="translate(322.9 278.18) rotate(-90)">200</text>
<text x="501.27" y="234.07" text-anchor="end">1994</text>
</g>
<g fill="none" stroke-width="0.8">
<g clip-path="url(#c7)">
<g stroke="#000">
<circle cx="582.08" cy="326.5" r="3.9"/>
<circle cx="587.43" cy="326.5" r="3.9"/>
<circle cx="592.77" cy="326.5" r="3.9"/>
<circle cx="598.12" cy="325.75" r="3.9"/>
<circle cx="603.46" cy="325.75" r="3.9"/>
<circle cx="608.8" cy="317.62" r="3.9"/>
<circle cx="614.15" cy="297.25" r="3.9"/>
<circle cx="619.49" cy="260.12" r="3.9"/>
<circle cx="624.84" cy="241.75" r="3.9"/>
<circle cx="630.18" cy="242" r="3.9"/>
<circle cx="635.53" cy="231" r="3.9"/>
<circle cx="640.87" cy="233.25" r="3.9"/>
<circle cx="646.22" cy="258.25" r="3.9"/>
<circle cx="651.56" cy="253.25" r="3.9"/>
<circle cx="656.91" cy="242.62" r="3.9"/>
<circle cx="662.25" cy="281.75" r="3.9"/>
<circle cx="667.6" cy="310.75" r="3.9"/>
<circle cx="672.94" cy="317.62" r="3.9"/>
<circle cx="678.29" cy="323.25" r="3.9"/>
<circle cx="683.63" cy="325.75" r="3.9"/>
<circle cx="688.98" cy="326.12" r="3.9"/>
<circle cx="694.32" cy="326.64" r="3.9"/>
<circle cx="699.67" cy="326.64" r="3.9"/>
<circle cx="705.01" cy="326.64" r="3.9"/>
<circle cx="710.35" cy="326.64" r="3.9"/>
<circle cx="715.7" cy="326.64" r="3.9"/>
<circle cx="721.04" cy="326.64" r="3.9"/>
<circle cx="726.39" cy="326.64" r="3.9"/>
</g>
<polyline stroke="#000" points="582.08,326 587.43,323.25 592.77,321.38 598.12,320.38 603.46,319.5 608.8,314.25 614.15,299.5 619.49,272.62 624.84,244.25 630.18,231.75 635.53,234.12 640.87,238.25 646.22,245.75 651.56,254.88 656.91,266.12 662.25,282.38 667.6,301.12 672.94,316 678.29,322.75 683.63,325.75 688.98,326.64 694.32,326.64 699.67,326.64 705.01,326.64 710.35,326.64 715.7,326.64 721.04,326.64 726.39,326.64"/>
<g stroke="#f00">
<circle cx="576.74" cy="326.5" r="3.9"/>
<circle cx="582.08" cy="311.62" r="3.9"/>
<circle cx="587.43" cy="308.25" r="3.9"/>
<circle cx="592.77" cy="314.5" r="3.9"/>
<circle cx="598.12" cy="325.12" r="3.9"/>
<circle cx="603.46" cy="326.12" r="3.9"/>
<circle cx="608.8" cy="324.5" r="3.9"/>
<circle cx="614.15" cy="313" r="3.9"/>
<circle cx="619.49" cy="269.5" r="3.9"/>
<circle cx="624.84" cy="212.62" r="3.9"/>
<circle cx="630.18" cy="211.38" r="3.9"/>
<circle cx="635.53" cy="256" r="3.9"/>
<circle cx="640.87" cy="256.38" r="3.9"/>
<circle cx="646.22" cy="241.38" r="3.9"/>
<circle cx="651.56" cy="269.25" r="3.9"/>
<circle cx="656.91" cy="261" r="3.9"/>
<circle cx="662.25" cy="256.62" r="3.9"/>
<circle cx="667.6" cy="264.88" r="3.9"/>
<circle cx="672.94" cy="287.62" r="3.9"/>
<circle cx="678.29" cy="304.88" r="3.9"/>
<circle cx="683.63" cy="315.5" r="3.9"/>
<circle cx="688.98" cy="320.12" r="3.9"/>
<circle cx="694.32" cy="325.12" r="3.9"/>
<circle cx="699.67" cy="326.12" r="3.9"/>
<circle cx="705.01" cy="326.64" r="3.9"/>
</g>
<polyline stroke="#f00" points="576.74,301.12 582.08,302.62 587.43,314.5 592.77,324.5 598.12,320.75 603.46,305.75 608.8,262 614.15,225.12 619.49,239.5 624.84,280.12 630.18,286.38 635.53,252 640.87,227.62 646.22,243.25 651.56,258.25 656.91,259.5 662.25,270.75 667.6,290.75 672.94,310.75 678.29,321.38 683.63,325.12 688.98,326.12 694.32,326.64 699.67,326.64 705.01,326.64"/>
</g>
<rect x="570.75" y="206.88" width="161.62" height="124.38" stroke="#000"/>
<path stroke="#000" d="M590.1 331.25v10.31M616.82 331.25v10.31M643.55 331.25v10.31M670.27 331.25v10.31M696.99 331.25v10.31M723.72 331.25v10.31M590.1 331.25H723.72M570.75 326.64h-10.31M570.75 294.74h-10.31M570.75 262.84h-10.31M570.75 230.94h-10.31M570.75 326.64V230.94"/>
</g>
<g font-size="17.2" text-anchor="middle">
<text x="590.1" y="368.68">10</text>
<text x="643.55" y="368.68">20</text>
<text x="696.99" y="368.68">30</text>
<text transform="translate(546.4 327.24) rotate(-90)">0</text>
<text transform="translate(546.4 263.44) rotate(-90)">200</text>
<text x="724.77" y="234.07" text-anchor="end">1995</text>
</g>
<g fill="none" stroke-width="0.8">
<g clip-path="url(#c8)">
<g stroke="#000">
<circle cx="805.58" cy="322" r="3.9"/>
<circle cx="810.93" cy="315.5" r="3.9"/>
<circle cx="816.27" cy="322" r="3.9"/>
<circle cx="821.62" cy="322.62" r="3.9"/>
<circle cx="826.96" cy="313.88" r="3.9"/>
<circle cx="832.3" cy="307.62" r="3.9"/>
<circle cx="837.65" cy="310.12" r="3.9"/>
<circle cx="842.99" cy="301.38" r="3.9"/>
<circle cx="848.34" cy="269.25" r="3.9"/>
<circle cx="853.68" cy="256.75" r="3.9"/>
<circle cx="859.03" cy="262" r="3.9"/>
<circle cx="864.37" cy="280.12" r="3.9"/>
<circle cx="869.72" cy="295.75" r="3.9"/>
<circle cx="875.06" cy="299.88" r="3.9"/>
<circle cx="880.41" cy="296.62" r="3.9"/>
<circle cx="885.75" cy="309.5" r="3.9"/>
<circle cx="891.1" cy="318.88" r="3.9"/>
<circle cx="896.44" cy="322.38" r="3.9"/>
<circle cx="901.79" cy="325.75" r="3.9"/>
<circle cx="907.13" cy="326.12" r="3.9"/>
<circle cx="912.48" cy="326.64" r="3.9"/>
<circle cx="917.82" cy="326.64" r="3.9"/>
<circle cx="923.17" cy="326.64" r="3.9"/>
<circle cx="928.51" cy="326.64" r="3.9"/>
<circle cx="933.85" cy="326.64" r="3.9"/>
<circle cx="939.2" cy="326.64" r="3.9"/>
<circle cx="944.54" cy="326.64" r="3.9"/>
<circle cx="949.89" cy="326.64" r="3.9"/>
</g>
<polyline stroke="#000" points="805.58,325.12 810.93,323.88 816.27,323.25 821.62,322.62 826.96,320.75 832.3,318 837.65,308 842.99,294.5 848.34,271 853.68,262 859.03,267 864.37,279.5 869.72,289.5 875.06,299.5 880.41,305.75 885.75,310.25 891.1,316 896.44,321.5 901.79,325.12 907.13,326.12 912.48,326.64 917.82,326.64 923.17,326.64 928.51,326.64 933.85,326.64 939.2,326.64 944.54,326.64 949.89,326.64"/>
<g stroke="#f00">
<circle cx="800.24" cy="326.5" r="3.9"/>
<circle cx="805.58" cy="315.12" r="3.9"/>
<circle cx="810.93" cy="289.25" r="3.9"/>
<circle cx="816.27" cy="284.5" r="3.9"/>
<circle cx="821.62" cy="322.62" r="3.9"/>
<circle cx="826.96" cy="326.5" r="3.9"/>
<circle cx="832.3" cy="325.75" r="3.9"/>
<circle cx="837.65" cy="323" r="3.9"/>
<circle cx="842.99" cy="302" r="3.9"/>
<circle cx="848.34" cy="222.62" r="3.9"/>
<circle cx="853.68" cy="211.38" r="3.9"/>
<circle cx="859.03" cy="261" r="3.9"/>
<circle cx="864.37" cy="285.12" r="3.9"/>
<circle cx="869.72" cy="285.12" r="3.9"/>
<circle cx="875.06" cy="288.88" r="3.9"/>
<circle cx="880.41" cy="289.5" r="3.9"/>
<circle cx="885.75" cy="295.12" r="3.9"/>
<circle cx="891.1" cy="296.62" r="3.9"/>
<circle cx="896.44" cy="301.38" r="3.9"/>
<circle cx="901.79" cy="310.5" r="3.9"/>
<circle cx="907.13" cy="318.88" r="3.9"/>
<circle cx="912.48" cy="323" r="3.9"/>
<circle cx="917.82" cy="325.75" r="3.9"/>
<circle cx="923.17" cy="326.12" r="3.9"/>
<circle cx="928.51" cy="326.64" r="3.9"/>
</g>
<polyline stroke="#f00" points="800.24,320.12 805.58,320.75 810.93,323.88 816.27,325.12 821.62,325.12 826.96,315.75 832.3,289.5 837.65,265.5 842.99,275.12 848.34,297.62 853.68,303 859.03,284.5 864.37,270.5 869.72,287 875.06,300.75 880.41,305.75 885.75,309.5 891.1,314.5 896.44,320.75 901.79,324.5 907.13,325.75 912.48,326.5 917.82,326.64 923.17,326.64 928.51,326.64"/>
</g>
<rect x="794.25" y="206.88" width="161.62" height="124.38" stroke="#000"/>
<path stroke="#000" d="M813.6 331.25v10.31M840.32 331.25v10.31M867.05 331.25v10.31M893.77 331.25v10.31M920.49 331.25v10.31M947.22 331.25v10.31M813.6 331.25H947.22M794.25 326.64h-10.31M794.25 297.08h-10.31M794.25 267.51h-10.31M794.25 237.94h-10.31M794.25 208.38h-10.31M794.25 326.64V208.38"/>
</g>
<g font-size="17.2" text-anchor="middle">
<text x="813.6" y="368.68">10</text>
<text x="867.05" y="368.68">20</text>
<text x="920.49" y="368.68">30</text>
<text transform="translate(769.9 327.24) rotate(-90)">0</text>
<text transform="translate(769.9 268.11) rotate(-90)">400</text>
<text transform="translate(769.9 208.98) rotate(-90)">800</text>
<text x="948.27" y="234.07" text-anchor="end">1996</text>
</g>
<g fill="none" stroke-width="0.8">
<g clip-path="url(#c9)">
<g stroke="#000">
<circle cx="1029.08" cy="326.5" r="3.9"/>
<circle cx="1034.43" cy="325.75" r="3.9"/>
<circle cx="1039.77" cy="326.12" r="3.9"/>
<circle cx="1045.12" cy="324.5" r="3.9"/>
<circle cx="1050.46" cy="323.88" r="3.9"/>
<circle cx="1055.8" cy="318.88" r="3.9"/>
<circle cx="1061.15" cy="312" r="3.9"/>
<circle cx="1066.49" cy="288.25" r="3.9"/>
<circle cx="1071.84" cy="256.75" r="3.9"/>
<circle cx="1077.18" cy="260.75" r="3.9"/>
<circle cx="1082.53" cy="280.5" r="3.9"/>
<circle cx="1087.87" cy="294.5" r="3.9"/>
<circle cx="1093.22" cy="299.12" r="3.9"/>
<circle cx="1098.56" cy="294.75" r="3.9"/>
<circle cx="1103.91" cy="303.88" r="3.9"/>
<circle cx="1109.25" cy="315.75" r="3.9"/>
<circle cx="1114.6" cy="320.12" r="3.9"/>
<circle cx="1119.94" cy="323" r="3.9"/>
<circle cx="1125.29" cy="325.12" r="3.9"/>
<circle cx="1130.63" cy="325.75" r="3.9"/>
<circle cx="1135.98" cy="326.12" r="3.9"/>
<circle cx="1141.32" cy="326.64" r="3.9"/>
<circle cx="1146.67" cy="326.64" r="3.9"/>
<circle cx="1152.01" cy="326.64" r="3.9"/>
<circle cx="1157.35" cy="326.64" r="3.9"/>
<circle cx="1162.7" cy="326.64" r="3.9"/>
<circle cx="1168.04" cy="326.64" r="3.9"/>
<circle cx="1173.39" cy="326.64" r="3.9"/>
</g>
<polyline stroke="#000" points="1029.08,326 1034.43,325.38 1039.77,324.88 1045.12,324.25 1050.46,323.25 1055.8,320.12 1061.15,312 1066.49,294.5 1071.84,273 1077.18,264.12 1082.53,270.12 1087.87,283 1093.22,294.5 1098.56,303.88 1103.91,311 1109.25,316 1114.6,320.75 1119.94,323.88 1125.29,325.5 1130.63,326.12 1135.98,326.64 1141.32,326.64 1146.67,326.64 1152.01,326.64 1157.35,326.64 1162.7,326.64 1168.04,326.64 1173.39,326.64"/>
<g stroke="#f00">
<circle cx="1023.74" cy="326.5" r="3.9"/>
<circle cx="1029.08" cy="325.12" r="3.9"/>
<circle cx="1034.43" cy="320.75" r="3.9"/>
<circle cx="1039.77" cy="314.25" r="3.9"/>
<circle cx="1045.12" cy="325.12" r="3.9"/>
<circle cx="1050.46" cy="326.5" r="3.9"/>
<circle cx="1055.8" cy="318.88" r="3.9"/>
<circle cx="1061.15" cy="298.88" r="3.9"/>
<circle cx="1066.49" cy="256.75" r="3.9"/>
<circle cx="1071.84" cy="211.38" r="3.9"/>
<circle cx="1077.18" cy="231.12" r="3.9"/>
<circle cx="1082.53" cy="280.12" r="3.9"/>
<circle cx="1087.87" cy="284.25" r="3.9"/>
<circle cx="1093.22" cy="279.25" r="3.9"/>
<circle cx="1098.56" cy="276.38" r="3.9"/>
<circle cx="1103.91" cy="277.62" r="3.9"/>
<circle cx="1109.25" cy="289.5" r="3.9"/>
<circle cx="1114.6" cy="299.75" r="3.9"/>
<circle cx="1119.94" cy="299.25" r="3.9"/>
<circle cx="1125.29" cy="309.25" r="3.9"/>
<circle cx="1130.63" cy="315.5" r="3.9"/>
<circle cx="1135.98" cy="322.62" r="3.9"/>
<circle cx="1141.32" cy="325.12" r="3.9"/>
<circle cx="1146.67" cy="326.12" r="3.9"/>
<circle cx="1152.01" cy="326.64" r="3.9"/>
</g>
<polyline stroke="#f00" points="1023.74,320.12 1029.08,321.38 1034.43,324.5 1039.77,325.75 1045.12,325.12 1050.46,320.75 1055.8,308.88 1061.15,298.88 1066.49,303.25 1071.84,311.38 1077.18,302 1082.53,274.5 1087.87,261.75 1093.22,280.75 1098.56,299.5 1103.91,308.25 1109.25,313.25 1114.6,318.25 1119.94,322.62 1125.29,325.12 1130.63,326.12 1135.98,326.64 1141.32,326.64 1146.67,326.64 1152.01,326.64"/>
</g>
<rect x="1017.75" y="206.88" width="161.62" height="124.38" stroke="#000"/>
<path stroke="#000" d="M1037.1 331.25v10.31M1063.82 331.25v10.31M1090.55 331.25v10.31M1117.27 331.25v10.31M1143.99 331.25v10.31M1170.72 331.25v10.31M1037.1 331.25H1170.72M1017.75 326.64h-10.31M1017.75 302.63h-10.31M1017.75 278.61h-10.31M1017.75 254.59h-10.31M1017.75 230.58h-10.31M1017.75 326.64V230.58"/>
</g>
<g font-size="17.2" text-anchor="middle">
<text x="1037.1" y="368.68">10</text>
<text x="1090.55" y="368.68">20</text>
<text x="1143.99" y="368.68">30</text>
<text transform="translate(993.4 327.24) rotate(-90)">0</text>
<text transform="translate(993.4 279.21) rotate(-90)">400</text>
<text x="1171.78" y="234.07" text-anchor="end">1997</text>
</g>
<g fill="none" stroke-width="0.8">
<g clip-path="url(#c10)">
<g stroke="#000">
<circle cx="135.08" cy="512.75" r="3.9"/>
<circle cx="140.43" cy="511.12" r="3.9"/>
<circle cx="145.77" cy="509.25" r="3.9"/>
<circle cx="151.12" cy="509.88" r="3.9"/>
<circle cx="156.46" cy="506.12" r="3.9"/>
<circle cx="161.8" cy="504.25" r="3.9"/>
<circle cx="167.15" cy="487.62" r="3.9"/>
<circle cx="172.49" cy="443.88" r="3.9"/>
<circle cx="177.84" cy="414.25" r="3.9"/>
<circle cx="183.18" cy="418.88" r="3.9"/>
<circle cx="188.53" cy="427.75" r="3.9"/>
<circle cx="193.87" cy="452.62" r="3.9"/>
<circle cx="199.22" cy="440.5" r="3.9"/>
<circle cx="204.56" cy="397.75" r="3.9"/>
<circle cx="209.91" cy="435.5" r="3.9"/>
<circle cx="215.25" cy="473.38" r="3.9"/>
<circle cx="220.6" cy="498" r="3.9"/>
<circle cx="225.94" cy="503" r="3.9"/>
<circle cx="231.29" cy="506.12" r="3.9"/>
<circle cx="236.63" cy="509.25" r="3.9"/>
<circle cx="241.98" cy="512.38" r="3.9"/>
<circle cx="247.32" cy="512.75" r="3.9"/>
<circle cx="252.67" cy="512.89" r="3.9"/>
<circle cx="258.01" cy="512.89" r="3.9"/>
<circle cx="263.35" cy="512.89" r="3.9"/>
<circle cx="268.7" cy="512.89" r="3.9"/>
<circle cx="274.04" cy="512.89" r="3.9"/>
<circle cx="279.39" cy="512.89" r="3.9"/>
</g>
<polyline stroke="#000" points="135.08,511.75 140.43,510.5 145.77,508.62 151.12,506.75 156.46,504.5 161.8,500.5 167.15,486.75 172.49,458 177.84,425.5 183.18,415.75 188.53,421.12 193.87,424.25 199.22,424.88 204.56,432 209.91,449.25 215.25,471.12 220.6,492.38 225.94,504.5 231.29,510.12 236.63,512.12 241.98,512.89 247.32,512.89 252.67,512.89 258.01,512.89 263.35,512.89 268.7,512.89 274.04,512.89 279.39,512.89"/>
<g stroke="#f00">
<circle cx="129.74" cy="511.5" r="3.9"/>
<circle cx="135.08" cy="500.5" r="3.9"/>
<circle cx="140.43" cy="485.5" r="3.9"/>
<circle cx="145.77" cy="492.38" r="3.9"/>
<circle cx="151.12" cy="508.62" r="3.9"/>
<circle cx="156.46" cy="512.38" r="3.9"/>
<circle cx="161.8" cy="510.88" r="3.9"/>
<circle cx="167.15" cy="502.38" r="3.9"/>
<circle cx="172.49" cy="480.88" r="3.9"/>
<circle cx="177.84" cy="444.88" r="3.9"/>
<circle cx="183.18" cy="442.12" r="3.9"/>
<circle cx="188.53" cy="425.5" r="3.9"/>
<circle cx="193.87" cy="420.25" r="3.9"/>
<circle cx="199.22" cy="439.88" r="3.9"/>
<circle cx="204.56" cy="441.12" r="3.9"/>
<circle cx="209.91" cy="450.12" r="3.9"/>
<circle cx="215.25" cy="446.75" r="3.9"/>
<circle cx="220.6" cy="453" r="3.9"/>
<circle cx="225.94" cy="473.62" r="3.9"/>
<circle cx="231.29" cy="486.38" r="3.9"/>
<circle cx="236.63" cy="498" r="3.9"/>
<circle cx="241.98" cy="507.38" r="3.9"/>
<circle cx="247.32" cy="512.38" r="3.9"/>
<circle cx="252.67" cy="512.75" r="3.9"/>
<circle cx="258.01" cy="512.89" r="3.9"/>
</g>
<polyline stroke="#f00" points="129.74,499 135.08,503 140.43,508 145.77,512.38 151.12,509.88 156.46,496.75 161.8,466.75 167.15,442.62 172.49,456.75 177.84,483 183.18,483.25 188.53,455.5 193.87,441.12 199.22,454.25 204.56,462.62 209.91,461.12 215.25,473 220.6,491.75 225.94,504.25 231.29,509.88 236.63,511.75 241.98,512.75 247.32,512.89 252.67,512.89 258.01,512.89"/>
</g>
<rect x="123.75" y="393.12" width="161.62" height="124.38" stroke="#000"/>
<path stroke="#000" d="M143.1 517.5v10.31M169.82 517.5v10.31M196.55 517.5v10.31M223.27 517.5v10.31M249.99 517.5v10.31M276.72 517.5v10.31M143.1 517.5H276.72M123.75 512.89h-10.31M123.75 485.4h-10.31M123.75 457.9h-10.31M123.75 430.4h-10.31M123.75 402.9h-10.31M123.75 512.89V402.9"/>
</g>
<g font-size="17.2" text-anchor="middle">
<text x="143.1" y="554.92">10</text>
<text x="196.55" y="554.92">20</text>
<text x="249.99" y="554.92">30</text>
<text transform="translate(99.4 513.49) rotate(-90)">0</text>
<text transform="translate(99.4 458.5) rotate(-90)">200</text>
<text transform="translate(99.4 403.5) rotate(-90)">400</text>
<text x="277.77" y="420.32" text-anchor="end">1998</text>
</g>
<g fill="none" stroke-width="0.8">
<g clip-path="url(#c11)">
<g stroke="#000">
<circle cx="358.58" cy="512.75" r="3.9"/>
<circle cx="363.93" cy="512.75" r="3.9"/>
<circle cx="369.27" cy="512.75" r="3.9"/>
<circle cx="374.62" cy="510.5" r="3.9"/>
<circle cx="379.96" cy="505.5" r="3.9"/>
<circle cx="385.3" cy="498.38" r="3.9"/>
<circle cx="390.65" cy="498.62" r="3.9"/>
<circle cx="395.99" cy="492.38" r="3.9"/>
<circle cx="401.34" cy="455.88" r="3.9"/>
<circle cx="406.68" cy="410.25" r="3.9"/>
<circle cx="412.03" cy="450.75" r="3.9"/>
<circle cx="417.37" cy="467" r="3.9"/>
<circle cx="422.72" cy="474.25" r="3.9"/>
<circle cx="428.06" cy="475.88" r="3.9"/>
<circle cx="433.41" cy="475.5" r="3.9"/>
<circle cx="438.75" cy="490.12" r="3.9"/>
<circle cx="444.1" cy="504" r="3.9"/>
<circle cx="449.44" cy="509.25" r="3.9"/>
<circle cx="454.79" cy="512.12" r="3.9"/>
<circle cx="460.13" cy="512.38" r="3.9"/>
<circle cx="465.48" cy="512.89" r="3.9"/>
<circle cx="470.82" cy="512.89" r="3.9"/>
<circle cx="476.17" cy="512.89" r="3.9"/>
<circle cx="481.51" cy="512.89" r="3.9"/>
<circle cx="486.85" cy="512.89" r="3.9"/>
<circle cx="492.2" cy="512.89" r="3.9"/>
<circle cx="497.54" cy="512.89" r="3.9"/>
<circle cx="502.89" cy="512.89" r="3.9"/>
</g>
<polyline stroke="#000" points="358.58,511.75 363.93,510.5 369.27,509.5 374.62,508.62 379.96,507.38 385.3,503.62 390.65,491.75 395.99,470.5 401.34,448.62 406.68,439.25 412.03,445.75 417.37,459.5 422.72,473 428.06,482.38 433.41,488 438.75,492.62 444.1,499.88 449.44,507.38 454.79,511.12 460.13,512.38 465.48,512.89 470.82,512.89 476.17,512.89 481.51,512.89 486.85,512.89 492.2,512.89 497.54,512.89 502.89,512.89"/>
<g stroke="#f00">
<circle cx="353.24" cy="510.25" r="3.9"/>
<circle cx="358.58" cy="500.88" r="3.9"/>
<circle cx="363.93" cy="488.62" r="3.9"/>
<circle cx="369.27" cy="499.88" r="3.9"/>
<circle cx="374.62" cy="511.12" r="3.9"/>
<circle cx="379.96" cy="512.38" r="3.9"/>
<circle cx="385.3" cy="511.12" r="3.9"/>
<circle cx="390.65" cy="500.5" r="3.9"/>
<circle cx="395.99" cy="464.25" r="3.9"/>
<circle cx="401.34" cy="397.75" r="3.9"/>
<circle cx="406.68" cy="399" r="3.9"/>
<circle cx="412.03" cy="450.5" r="3.9"/>
<circle cx="417.37" cy="481.5" r="3.9"/>
<circle cx="422.72" cy="482.38" r="3.9"/>
<circle cx="428.06" cy="484.88" r="3.9"/>
<circle cx="433.41" cy="469.25" r="3.9"/>
<circle cx="438.75" cy="472.38" r="3.9"/>
<circle cx="444.1" cy="474.25" r="3.9"/>
<circle cx="449.44" cy="480.5" r="3.9"/>
<circle cx="454.79" cy="492.62" r="3.9"/>
<circle cx="460.13" cy="503.38" r="3.9"/>
<circle cx="465.48" cy="507.38" r="3.9"/>
<circle cx="470.82" cy="512.12" r="3.9"/>
<circle cx="476.17" cy="512.5" r="3.9"/>
<circle cx="481.51" cy="512.89" r="3.9"/>
</g>
<polyline stroke="#f00" points="353.24,504.25 358.58,505.5 363.93,509.88 369.27,511.12 374.62,510.5 379.96,501.12 385.3,476.75 390.65,457.12 395.99,463 401.34,485.88 406.68,485.88 412.03,461.75 417.37,444.25 422.72,463 428.06,481.75 433.41,488 438.75,491.75 444.1,498 449.44,505.5 454.79,509.88 460.13,511.75 465.48,512.75 470.82,512.89 476.17,512.89 481.51,512.89"/>
</g>
<rect x="347.25" y="393.12" width="161.62" height="124.38" stroke="#000"/>
<path stroke="#000" d="M366.6 517.5v10.31M393.32 517.5v10.31M420.05 517.5v10.31M446.77 517.5v10.31M473.49 517.5v10.31M500.22 517.5v10.31M366.6 517.5H500.22M347.25 512.89h-10.31M347.25 491.19h-10.31M347.25 469.49h-10.31M347.25 447.79h-10.31M347.25 426.09h-10.31M347.25 404.39h-10.31M347.25 512.89V404.39"/>
</g>
<g font-size="17.2" text-anchor="middle">
<text x="366.6" y="554.92">10</text>
<text x="420.05" y="554.92">20</text>
<text x="473.49" y="554.92">30</text>
<text transform="translate(322.9 513.49) rotate(-90)">0</text>
<text transform="translate(322.9 470.09) rotate(-90)">200</text>
<text transform="translate(322.9 404.99) rotate(-90)">500</text>
<text x="501.27" y="420.32" text-anchor="end">1999</text>
</g>
<g fill="none" stroke-width="0.8">
<g clip-path="url(#c12)">
<g stroke="#000">
<circle cx="582.08" cy="512.75" r="3.9"/>
<circle cx="587.43" cy="512.75" r="3.9"/>
<circle cx="592.77" cy="511.75" r="3.9"/>
<circle cx="598.12" cy="511.5" r="3.9"/>
<circle cx="603.46" cy="511.75" r="3.9"/>
<circle cx="608.8" cy="511.12" r="3.9"/>
<circle cx="614.15" cy="504" r="3.9"/>
<circle cx="619.49" cy="482" r="3.9"/>
<circle cx="624.84" cy="452.38" r="3.9"/>
<circle cx="630.18" cy="455.12" r="3.9"/>
<circle cx="635.53" cy="475.5" r="3.9"/>
<circle cx="640.87" cy="480.75" r="3.9"/>
<circle cx="646.22" cy="480.75" r="3.9"/>
<circle cx="651.56" cy="483.62" r="3.9"/>
<circle cx="656.91" cy="489.88" r="3.9"/>
<circle cx="662.25" cy="496.5" r="3.9"/>
<circle cx="667.6" cy="503.62" r="3.9"/>
<circle cx="672.94" cy="508" r="3.9"/>
<circle cx="678.29" cy="509.88" r="3.9"/>
<circle cx="683.63" cy="511.12" r="3.9"/>
<circle cx="688.98" cy="511.75" r="3.9"/>
<circle cx="694.32" cy="512.75" r="3.9"/>
<circle cx="699.67" cy="512.89" r="3.9"/>
<circle cx="705.01" cy="512.89" r="3.9"/>
<circle cx="710.35" cy="512.89" r="3.9"/>
<circle cx="715.7" cy="512.89" r="3.9"/>
<circle cx="721.04" cy="512.89" r="3.9"/>
<circle cx="726.39" cy="512.89" r="3.9"/>
</g>
<polyline stroke="#000" points="582.08,512.38 587.43,511.75 592.77,511.12 598.12,510.5 603.46,509.88 608.8,507.62 614.15,499.25 619.49,484.25 624.84,466.5 630.18,459.25 635.53,463.88 640.87,471.75 646.22,480.12 651.56,486.75 656.91,492.62 662.25,498.88 667.6,504.88 672.94,508.88 678.29,511.12 683.63,512 688.98,512.89 694.32,512.89 699.67,512.89 705.01,512.89 710.35,512.89 715.7,512.89 721.04,512.89 726.39,512.89"/>
<g stroke="#f00">
<circle cx="576.74" cy="507.62" r="3.9"/>
<circle cx="582.08" cy="507.38" r="3.9"/>
<circle cx="587.43" cy="485.88" r="3.9"/>
<circle cx="592.77" cy="474.62" r="3.9"/>
<circle cx="598.12" cy="491.75" r="3.9"/>
<circle cx="603.46" cy="511.5" r="3.9"/>
<circle cx="608.8" cy="510.25" r="3.9"/>
<circle cx="614.15" cy="498.62" r="3.9"/>
<circle cx="619.49" cy="459.5" r="3.9"/>
<circle cx="624.84" cy="397.75" r="3.9"/>
<circle cx="630.18" cy="411.5" r="3.9"/>
<circle cx="635.53" cy="463" r="3.9"/>
<circle cx="640.87" cy="482.38" r="3.9"/>
<circle cx="646.22" cy="484.88" r="3.9"/>
<circle cx="651.56" cy="483.62" r="3.9"/>
<circle cx="656.91" cy="474" r="3.9"/>
<circle cx="662.25" cy="483.62" r="3.9"/>
<circle cx="667.6" cy="496.75" r="3.9"/>
<circle cx="672.94" cy="499.25" r="3.9"/>
<circle cx="678.29" cy="501.12" r="3.9"/>
<circle cx="683.63" cy="507.38" r="3.9"/>
<circle cx="688.98" cy="509.25" r="3.9"/>
<circle cx="694.32" cy="511.75" r="3.9"/>
<circle cx="699.67" cy="512.38" r="3.9"/>
<circle cx="705.01" cy="512.89" r="3.9"/>
</g>
<polyline stroke="#f00" points="576.74,503.62 582.08,504.88 587.43,509.88 592.77,511.75 598.12,511.12 603.46,504.88 608.8,490.5 614.15,477 619.49,484.25 624.84,495.25 630.18,490.5 635.53,465.5 640.87,454.25 646.22,470.5 651.56,484.88 656.91,488 662.25,494.25 667.6,501.75 672.94,507.38 678.29,510.5 683.63,511.75 688.98,512.75 694.32,512.89 699.67,512.89 705.01,512.89"/>
</g>
<rect x="570.75" y="393.12" width="161.62" height="124.38" stroke="#000"/>
<path stroke="#000" d="M590.1 517.5v10.31M616.82 517.5v10.31M643.55 517.5v10.31M670.27 517.5v10.31M696.99 517.5v10.31M723.72 517.5v10.31M590.1 517.5H723.72M570.75 512.89h-10.31M570.75 495.96h-10.31M570.75 479.02h-10.31M570.75 462.09h-10.31M570.75 445.15h-10.31M570.75 428.22h-10.31M570.75 411.28h-10.31M570.75 394.34h-10.31M570.75 512.89V394.34"/>
</g>
<g font-size="17.2" text-anchor="middle">
<text x="590.1" y="554.92">10</text>
<text x="643.55" y="554.92">20</text>
<text x="696.99" y="554.92">30</text>
<text transform="translate(546.4 513.49) rotate(-90)">0</text>
<text transform="translate(546.4 462.69) rotate(-90)">300</text>
<text transform="translate(546.4 411.88) rotate(-90)">600</text>
<text x="724.77" y="420.32" text-anchor="end">2000</text>
</g>
<g fill="none" stroke-width="0.8">
<g clip-path="url(#c13)">
<g stroke="#000">
<circle cx="805.58" cy="511.75" r="3.9"/>
<circle cx="810.93" cy="504.88" r="3.9"/>
<circle cx="816.27" cy="503.25" r="3.9"/>
<circle cx="821.62" cy="503.62" r="3.9"/>
<circle cx="826.96" cy="511.12" r="3.9"/>
<circle cx="832.3" cy="510.88" r="3.9"/>
<circle cx="837.65" cy="507.75" r="3.9"/>
<circle cx="842.99" cy="499" r="3.9"/>
<circle cx="848.34" cy="474.25" r="3.9"/>
<circle cx="853.68" cy="459.62" r="3.9"/>
<circle cx="859.03" cy="468.88" r="3.9"/>
<circle cx="864.37" cy="474.88" r="3.9"/>
<circle cx="869.72" cy="483" r="3.9"/>
<circle cx="875.06" cy="481.12" r="3.9"/>
<circle cx="880.41" cy="480.88" r="3.9"/>
<circle cx="885.75" cy="493.62" r="3.9"/>
<circle cx="891.1" cy="505.25" r="3.9"/>
<circle cx="896.44" cy="508.62" r="3.9"/>
<circle cx="901.79" cy="511.5" r="3.9"/>
<circle cx="907.13" cy="510.5" r="3.9"/>
<circle cx="912.48" cy="511.75" r="3.9"/>
<circle cx="917.82" cy="512.89" r="3.9"/>
<circle cx="923.17" cy="512.89" r="3.9"/>
<circle cx="928.51" cy="512.89" r="3.9"/>
<circle cx="933.85" cy="512.89" r="3.9"/>
<circle cx="939.2" cy="512.89" r="3.9"/>
<circle cx="944.54" cy="512.89" r="3.9"/>
<circle cx="949.89" cy="512.89" r="3.9"/>
</g>
<polyline stroke="#000" points="805.58,512 810.93,510.38 816.27,509.25 821.62,508.62 826.96,507.75 832.3,506.75 837.65,500.12 842.99,485.12 848.34,470.88 853.68,467 859.03,469 864.37,474.62 869.72,479.25 875.06,485.5 880.41,490.75 885.75,497 891.1,503.88 896.44,509.25 901.79,511.75 907.13,512.38 912.48,512.89 917.82,512.89 923.17,512.89 928.51,512.89 933.85,512.89 939.2,512.89 944.54,512.89 949.89,512.89"/>
<g stroke="#f00">
<circle cx="800.24" cy="511.12" r="3.9"/>
<circle cx="805.58" cy="496.75" r="3.9"/>
<circle cx="810.93" cy="472.75" r="3.9"/>
<circle cx="816.27" cy="493.25" r="3.9"/>
<circle cx="821.62" cy="512.38" r="3.9"/>
<circle cx="826.96" cy="512.38" r="3.9"/>
<circle cx="832.3" cy="509.25" r="3.9"/>
<circle cx="837.65" cy="495.88" r="3.9"/>
<circle cx="842.99" cy="452.75" r="3.9"/>
<circle cx="848.34" cy="397.75" r="3.9"/>
<circle cx="853.68" cy="414.25" r="3.9"/>
<circle cx="859.03" cy="448.62" r="3.9"/>
<circle cx="864.37" cy="457.12" r="3.9"/>
<circle cx="869.72" cy="465.5" r="3.9"/>
<circle cx="875.06" cy="474.62" r="3.9"/>
<circle cx="880.41" cy="464.62" r="3.9"/>
<circle cx="885.75" cy="472.62" r="3.9"/>
<circle cx="891.1" cy="477.38" r="3.9"/>
<circle cx="896.44" cy="495.75" r="3.9"/>
<circle cx="901.79" cy="500.5" r="3.9"/>
<circle cx="907.13" cy="506.12" r="3.9"/>
<circle cx="912.48" cy="508.62" r="3.9"/>
<circle cx="917.82" cy="511.75" r="3.9"/>
<circle cx="923.17" cy="512.38" r="3.9"/>
<circle cx="928.51" cy="512.89" r="3.9"/>
</g>
<polyline stroke="#f00" points="800.24,500.5 805.58,501.75 810.93,508 816.27,511.12 821.62,509.25 826.96,501.12 832.3,480.5 837.65,462.62 842.99,469.88 848.34,489.88 853.68,494.25 859.03,479.25 864.37,468 869.72,478 875.06,486.75 880.41,488 885.75,493 891.1,500.5 896.44,506.75 901.79,510.5 907.13,511.75 912.48,512.75 917.82,512.89 923.17,512.89 928.51,512.89"/>
</g>
<rect x="794.25" y="393.12" width="161.62" height="124.38" stroke="#000"/>
<path stroke="#000" d="M813.6 517.5v10.31M840.32 517.5v10.31M867.05 517.5v10.31M893.77 517.5v10.31M920.49 517.5v10.31M947.22 517.5v10.31M813.6 517.5H947.22M794.25 512.89h-10.31M794.25 496.37h-10.31M794.25 479.85h-10.31M794.25 463.33h-10.31M794.25 446.8h-10.31M794.25 430.28h-10.31M794.25 413.76h-10.31M794.25 397.24h-10.31M794.25 512.89V397.24"/>
</g>
<g font-size="17.2" text-anchor="middle">
<text x="813.6" y="554.92">10</text>
<text x="867.05" y="554.92">20</text>
<text x="920.49" y="554.92">30</text>
<text transform="translate(769.9 513.49) rotate(-90)">0</text>
<text transform="translate(769.9 463.93) rotate(-90)">300</text>
<text transform="translate(769.9 397.84) rotate(-90)">700</text>
<text x="948.27" y="420.32" text-anchor="end">2001</text>
</g>
<g fill="none" stroke-width="0.8">
<g clip-path="url(#c14)">
<g stroke="#000">
<circle cx="1029.08" cy="512.75" r="3.9"/>
<circle cx="1034.43" cy="512.75" r="3.9"/>
<circle cx="1039.77" cy="511.5" r="3.9"/>
<circle cx="1045.12" cy="504" r="3.9"/>
<circle cx="1050.46" cy="493.62" r="3.9"/>
<circle cx="1055.8" cy="489.5" r="3.9"/>
<circle cx="1061.15" cy="487.12" r="3.9"/>
<circle cx="1066.49" cy="474" r="3.9"/>
<circle cx="1071.84" cy="452.38" r="3.9"/>
<circle cx="1077.18" cy="448.25" r="3.9"/>
<circle cx="1082.53" cy="467" r="3.9"/>
<circle cx="1087.87" cy="472.38" r="3.9"/>
<circle cx="1093.22" cy="479.25" r="3.9"/>
<circle cx="1098.56" cy="488" r="3.9"/>
<circle cx="1103.91" cy="492.75" r="3.9"/>
<circle cx="1109.25" cy="502.38" r="3.9"/>
<circle cx="1114.6" cy="507.38" r="3.9"/>
<circle cx="1119.94" cy="510.5" r="3.9"/>
<circle cx="1125.29" cy="511.75" r="3.9"/>
<circle cx="1130.63" cy="512.38" r="3.9"/>
<circle cx="1135.98" cy="512.89" r="3.9"/>
<circle cx="1141.32" cy="512.89" r="3.9"/>
<circle cx="1146.67" cy="512.89" r="3.9"/>
<circle cx="1152.01" cy="512.89" r="3.9"/>
<circle cx="1157.35" cy="512.89" r="3.9"/>
<circle cx="1162.7" cy="512.89" r="3.9"/>
<circle cx="1168.04" cy="512.89" r="3.9"/>
<circle cx="1173.39" cy="512.89" r="3.9"/>
</g>
<polyline stroke="#000" points="1029.08,512.62 1034.43,511.75 1039.77,510.5 1045.12,509.25 1050.46,508 1055.8,505.12 1061.15,493.62 1066.49,478 1071.84,457.75 1077.18,450.12 1082.53,456.12 1087.87,469.25 1093.22,479.88 1098.56,488 1103.91,493.88 1109.25,499.5 1114.6,505.12 1119.94,509.62 1125.29,511.5 1130.63,512.38 1135.98,512.89 1141.32,512.89 1146.67,512.89 1152.01,512.89 1157.35,512.89 1162.7,512.89 1168.04,512.89 1173.39,512.89"/>
<g stroke="#f00">
<circle cx="1023.74" cy="512.75" r="3.9"/>
<circle cx="1029.08" cy="502.75" r="3.9"/>
<circle cx="1034.43" cy="489" r="3.9"/>
<circle cx="1039.77" cy="498.62" r="3.9"/>
<circle cx="1045.12" cy="509.88" r="3.9"/>
<circle cx="1050.46" cy="512.38" r="3.9"/>
<circle cx="1055.8" cy="511.75" r="3.9"/>
<circle cx="1061.15" cy="504.88" r="3.9"/>
<circle cx="1066.49" cy="474.25" r="3.9"/>
<circle cx="1071.84" cy="411.5" r="3.9"/>
<circle cx="1077.18" cy="397.75" r="3.9"/>
<circle cx="1082.53" cy="451.75" r="3.9"/>
<circle cx="1087.87" cy="476.75" r="3.9"/>
<circle cx="1093.22" cy="484.25" r="3.9"/>
<circle cx="1098.56" cy="487.38" r="3.9"/>
<circle cx="1103.91" cy="486.12" r="3.9"/>
<circle cx="1109.25" cy="495.25" r="3.9"/>
<circle cx="1114.6" cy="498.62" r="3.9"/>
<circle cx="1119.94" cy="503.62" r="3.9"/>
<circle cx="1125.29" cy="508.62" r="3.9"/>
<circle cx="1130.63" cy="509.88" r="3.9"/>
<circle cx="1135.98" cy="511.75" r="3.9"/>
<circle cx="1141.32" cy="512.38" r="3.9"/>
<circle cx="1146.67" cy="512.89" r="3.9"/>
<circle cx="1152.01" cy="512.89" r="3.9"/>
</g>
<polyline stroke="#f00" points="1023.74,501.75 1029.08,503 1034.43,508.62 1039.77,511.75 1045.12,511.12 1050.46,500.5 1055.8,475.5 1061.15,454.62 1066.49,462.38 1071.84,486.75 1077.18,489.25 1082.53,468 1087.87,455.75 1093.22,473 1098.56,488 1103.91,491.75 1109.25,496.75 1114.6,503 1119.94,508 1125.29,510.75 1130.63,512 1135.98,512.89 1141.32,512.89 1146.67,512.89 1152.01,512.89"/>
</g>
<rect x="1017.75" y="393.12" width="161.62" height="124.38" stroke="#000"/>
<path stroke="#000" d="M1037.1 517.5v10.31M1063.82 517.5v10.31M1090.55 517.5v10.31M1117.27 517.5v10.31M1143.99 517.5v10.31M1170.72 517.5v10.31M1037.1 517.5H1170.72M1017.75 512.89h-10.31M1017.75 482.49h-10.31M1017.75 452.09h-10.31M1017.75 421.69h-10.31M1017.75 512.89V421.69"/>
</g>
<g font-size="17.2" text-anchor="middle">
<text x="1037.1" y="554.92">10</text>
<text x="1090.55" y="554.92">20</text>
<text x="1143.99" y="554.92">30</text>
<text transform="translate(993.4 513.49) rotate(-90)">0</text>
<text transform="translate(993.4 452.69) rotate(-90)">400</text>
<text x="1171.78" y="420.32" text-anchor="end">2002</text>
</g>
<g fill="none" stroke-width="0.8">
<g clip-path="url(#c15)">
<g stroke="#000">
<circle cx="129.74" cy="699" r="3.9"/>
<circle cx="135.28" cy="698.75" r="3.9"/>
<circle cx="140.82" cy="697.75" r="3.9"/>
<circle cx="146.36" cy="694.25" r="3.9"/>
<circle cx="151.91" cy="687.12" r="3.9"/>
<circle cx="157.45" cy="682.5" r="3.9"/>
<circle cx="162.99" cy="681.75" r="3.9"/>
<circle cx="168.53" cy="665.25" r="3.9"/>
<circle cx="174.08" cy="610.88" r="3.9"/>
<circle cx="179.62" cy="584" r="3.9"/>
<circle cx="185.16" cy="601.5" r="3.9"/>
<circle cx="190.71" cy="632.75" r="3.9"/>
<circle cx="196.25" cy="648" r="3.9"/>
<circle cx="201.79" cy="645.88" r="3.9"/>
<circle cx="207.33" cy="645.62" r="3.9"/>
<circle cx="212.88" cy="674" r="3.9"/>
<circle cx="218.42" cy="686.88" r="3.9"/>
<circle cx="223.96" cy="693.12" r="3.9"/>
<circle cx="229.5" cy="697.5" r="3.9"/>
<circle cx="235.05" cy="698.38" r="3.9"/>
<circle cx="240.59" cy="699" r="3.9"/>
<circle cx="246.13" cy="699.14" r="3.9"/>
<circle cx="251.68" cy="699.14" r="3.9"/>
<circle cx="257.22" cy="699.14" r="3.9"/>
<circle cx="262.76" cy="699.14" r="3.9"/>
<circle cx="268.3" cy="699.14" r="3.9"/>
<circle cx="273.85" cy="699.14" r="3.9"/>
<circle cx="279.39" cy="699.14" r="3.9"/>
</g>
<polyline stroke="#000" points="129.74,698.75 135.28,697.12 140.82,695.88 146.36,694.25 151.91,692.12 157.45,687.75 162.99,673.38 168.53,642.12 174.08,611.5 179.62,597.12 185.16,604 190.71,622.75 196.25,641.5 201.79,657.5 207.33,670.88 212.88,681.5 218.42,689 223.96,695.25 229.5,697.75 235.05,698.75 240.59,699.14 246.13,699.14 251.68,699.14 257.22,699.14 262.76,699.14 268.3,699.14 273.85,699.14 279.39,699.14"/>
</g>
<rect x="123.75" y="579.38" width="161.62" height="124.38" stroke="#000"/>
<path stroke="#000" d="M138.05 703.75v10.31M165.76 703.75v10.31M193.48 703.75v10.31M221.19 703.75v10.31M248.9 703.75v10.31M276.62 703.75v10.31M138.05 703.75H276.62M123.75 699.14h-10.31M123.75 675.53h-10.31M123.75 651.92h-10.31M123.75 628.3h-10.31M123.75 604.69h-10.31M123.75 581.08h-10.31M123.75 699.14V581.08"/>
</g>
<g font-size="17.2" text-anchor="middle">
<text x="138.05" y="741.17">10</text>
<text x="193.48" y="741.17">20</text>
<text x="248.9" y="741.17">30</text>
<text transform="translate(99.4 699.74) rotate(-90)">0</text>
<text transform="translate(99.4 652.52) rotate(-90)">200</text>
<text transform="translate(99.4 581.68) rotate(-90)">500</text>
<text x="277.77" y="606.58" text-anchor="end">2003</text>
</g>
<g fill="none" stroke-width="0.8">
<g clip-path="url(#c16)">
<g stroke="#000">
<circle cx="358.58" cy="698.75" r="3.9"/>
<circle cx="363.93" cy="699" r="3.9"/>
<circle cx="369.27" cy="698.38" r="3.9"/>
<circle cx="374.62" cy="698.38" r="3.9"/>
<circle cx="379.96" cy="695.88" r="3.9"/>
<circle cx="385.3" cy="695.5" r="3.9"/>
<circle cx="390.65" cy="691.12" r="3.9"/>
<circle cx="395.99" cy="678" r="3.9"/>
<circle cx="401.34" cy="642.75" r="3.9"/>
<circle cx="406.68" cy="645.25" r="3.9"/>
<circle cx="412.03" cy="660.88" r="3.9"/>
<circle cx="417.37" cy="666.5" r="3.9"/>
<circle cx="422.72" cy="659" r="3.9"/>
<circle cx="428.06" cy="665" r="3.9"/>
<circle cx="433.41" cy="676.5" r="3.9"/>
<circle cx="438.75" cy="687.75" r="3.9"/>
<circle cx="444.1" cy="694.25" r="3.9"/>
<circle cx="449.44" cy="697.12" r="3.9"/>
<circle cx="454.79" cy="698.38" r="3.9"/>
<circle cx="460.13" cy="698.75" r="3.9"/>
<circle cx="465.48" cy="699.14" r="3.9"/>
<circle cx="470.82" cy="699.14" r="3.9"/>
<circle cx="476.17" cy="699.14" r="3.9"/>
<circle cx="481.51" cy="699.14" r="3.9"/>
<circle cx="486.85" cy="699.14" r="3.9"/>
<circle cx="492.2" cy="699.14" r="3.9"/>
<circle cx="497.54" cy="699.14" r="3.9"/>
<circle cx="502.89" cy="699.14" r="3.9"/>
</g>
<polyline stroke="#000" points="358.58,699 363.93,698.5 369.27,698 374.62,697.25 379.96,696.12 385.3,694.25 390.65,688.62 395.99,672.12 401.34,654.62 406.68,649.62 412.03,654 417.37,660.25 422.72,664.38 428.06,670.25 433.41,679 438.75,687.38 444.1,693.62 449.44,697.12 454.79,698.38 460.13,699.14 465.48,699.14 470.82,699.14 476.17,699.14 481.51,699.14 486.85,699.14 492.2,699.14 497.54,699.14 502.89,699.14"/>
<g stroke="#f00">
<circle cx="353.24" cy="699" r="3.9"/>
<circle cx="358.58" cy="698.38" r="3.9"/>
<circle cx="363.93" cy="697.12" r="3.9"/>
<circle cx="369.27" cy="689.25" r="3.9"/>
<circle cx="374.62" cy="674.38" r="3.9"/>
<circle cx="379.96" cy="645.88" r="3.9"/>
<circle cx="385.3" cy="614.38" r="3.9"/>
<circle cx="390.65" cy="584" r="3.9"/>
<circle cx="395.99" cy="587.12" r="3.9"/>
<circle cx="401.34" cy="624.25" r="3.9"/>
<circle cx="406.68" cy="650.25" r="3.9"/>
<circle cx="412.03" cy="654" r="3.9"/>
<circle cx="417.37" cy="655.25" r="3.9"/>
<circle cx="422.72" cy="658.38" r="3.9"/>
<circle cx="428.06" cy="662.12" r="3.9"/>
<circle cx="433.41" cy="664.38" r="3.9"/>
<circle cx="438.75" cy="673" r="3.9"/>
<circle cx="444.1" cy="681.88" r="3.9"/>
<circle cx="449.44" cy="688.75" r="3.9"/>
<circle cx="454.79" cy="694" r="3.9"/>
<circle cx="460.13" cy="695.25" r="3.9"/>
<circle cx="465.48" cy="697.75" r="3.9"/>
<circle cx="470.82" cy="698.75" r="3.9"/>
<circle cx="476.17" cy="699.14" r="3.9"/>
<circle cx="481.51" cy="699.14" r="3.9"/>
</g>
<polyline stroke="#f00" points="353.24,699 358.58,697.75 363.93,694 369.27,689 374.62,678 379.96,676.5 385.3,686.5 390.65,692.75 395.99,686.5 401.34,667.75 406.68,652.12 412.03,663.38 417.37,673.38 422.72,670.88 428.06,668.38 433.41,675.25 438.75,685.25 444.1,692.75 449.44,697.12 454.79,698.38 460.13,699.14 465.48,699.14 470.82,699.14 476.17,699.14 481.51,699.14"/>
</g>
<rect x="347.25" y="579.38" width="161.62" height="124.38" stroke="#000"/>
<path stroke="#000" d="M366.6 703.75v10.31M393.32 703.75v10.31M420.05 703.75v10.31M446.77 703.75v10.31M473.49 703.75v10.31M500.22 703.75v10.31M366.6 703.75H500.22M347.25 699.14h-10.31M347.25 680.14h-10.31M347.25 661.14h-10.31M347.25 642.13h-10.31M347.25 623.13h-10.31M347.25 604.13h-10.31M347.25 585.12h-10.31M347.25 699.14V585.12"/>
</g>
<g font-size="17.2" text-anchor="middle">
<text x="366.6" y="741.17">10</text>
<text x="420.05" y="741.17">20</text>
<text x="473.49" y="741.17">30</text>
<text transform="translate(322.9 699.74) rotate(-90)">0</text>
<text transform="translate(322.9 642.73) rotate(-90)">600</text>
<text transform="translate(322.9 585.72) rotate(-90)">1200</text>
<text x="501.27" y="606.58" text-anchor="end">2004</text>
</g>
<g fill="none" stroke-width="0.8">
<g clip-path="url(#c17)">
<g stroke="#000">
<circle cx="582.08" cy="699" r="3.9"/>
<circle cx="587.43" cy="698.38" r="3.9"/>
<circle cx="592.77" cy="697.5" r="3.9"/>
<circle cx="598.12" cy="690.88" r="3.9"/>
<circle cx="603.46" cy="684.62" r="3.9"/>
<circle cx="608.8" cy="687.75" r="3.9"/>
<circle cx="614.15" cy="689.62" r="3.9"/>
<circle cx="619.49" cy="672.12" r="3.9"/>
<circle cx="624.84" cy="628.12" r="3.9"/>
<circle cx="630.18" cy="617.5" r="3.9"/>
<circle cx="635.53" cy="636.5" r="3.9"/>
<circle cx="640.87" cy="654.25" r="3.9"/>
<circle cx="646.22" cy="657.12" r="3.9"/>
<circle cx="651.56" cy="659.62" r="3.9"/>
<circle cx="656.91" cy="666.5" r="3.9"/>
<circle cx="662.25" cy="680.25" r="3.9"/>
<circle cx="667.6" cy="688.75" r="3.9"/>
<circle cx="672.94" cy="696.5" r="3.9"/>
<circle cx="678.29" cy="698" r="3.9"/>
<circle cx="683.63" cy="698.38" r="3.9"/>
<circle cx="688.98" cy="699.14" r="3.9"/>
<circle cx="694.32" cy="699.14" r="3.9"/>
<circle cx="699.67" cy="699.14" r="3.9"/>
<circle cx="705.01" cy="699.14" r="3.9"/>
<circle cx="710.35" cy="699.14" r="3.9"/>
<circle cx="715.7" cy="699.14" r="3.9"/>
<circle cx="721.04" cy="699.14" r="3.9"/>
<circle cx="726.39" cy="699.14" r="3.9"/>
</g>
<polyline stroke="#000" points="582.08,699 587.43,698.38 592.77,697.12 598.12,695.88 603.46,694.62 608.8,692.12 614.15,685.25 619.49,662.75 624.84,636.5 630.18,627.12 635.53,632.38 640.87,645.5 646.22,656.75 651.56,666.75 656.91,674.25 662.25,681.75 667.6,689.25 672.94,695.25 678.29,697.75 683.63,699.14 688.98,699.14 694.32,699.14 699.67,699.14 705.01,699.14 710.35,699.14 715.7,699.14 721.04,699.14 726.39,699.14"/>
<g stroke="#f00">
<circle cx="576.74" cy="699" r="3.9"/>
<circle cx="582.08" cy="698.75" r="3.9"/>
<circle cx="587.43" cy="697.75" r="3.9"/>
<circle cx="592.77" cy="697.12" r="3.9"/>
<circle cx="598.12" cy="689" r="3.9"/>
<circle cx="603.46" cy="669.62" r="3.9"/>
<circle cx="608.8" cy="645.25" r="3.9"/>
<circle cx="614.15" cy="620.25" r="3.9"/>
<circle cx="619.49" cy="616.5" r="3.9"/>
<circle cx="624.84" cy="609" r="3.9"/>
<circle cx="630.18" cy="584" r="3.9"/>
<circle cx="635.53" cy="594.62" r="3.9"/>
<circle cx="640.87" cy="616.88" r="3.9"/>
<circle cx="646.22" cy="638.12" r="3.9"/>
<circle cx="651.56" cy="651.25" r="3.9"/>
<circle cx="656.91" cy="660" r="3.9"/>
<circle cx="662.25" cy="661.5" r="3.9"/>
<circle cx="667.6" cy="666.75" r="3.9"/>
<circle cx="672.94" cy="679.62" r="3.9"/>
<circle cx="678.29" cy="685.5" r="3.9"/>
<circle cx="683.63" cy="694" r="3.9"/>
<circle cx="688.98" cy="697.12" r="3.9"/>
<circle cx="694.32" cy="698.38" r="3.9"/>
<circle cx="699.67" cy="699.14" r="3.9"/>
<circle cx="705.01" cy="699.14" r="3.9"/>
</g>
<polyline stroke="#f00" points="576.74,699 582.08,697.75 587.43,695.25 592.77,686.5 598.12,670.25 603.46,662.5 608.8,675.25 614.15,687.12 619.49,682.75 624.84,654 630.18,627.75 635.53,639 640.87,660.25 646.22,666.5 651.56,661.5 656.91,667.75 662.25,677.75 667.6,687.12 672.94,694 678.29,697.12 683.63,698.38 688.98,699.14 694.32,699.14 699.67,699.14 705.01,699.14"/>
</g>
<rect x="570.75" y="579.38" width="161.62" height="124.38" stroke="#000"/>
<path stroke="#000" d="M590.1 703.75v10.31M616.82 703.75v10.31M643.55 703.75v10.31M670.27 703.75v10.31M696.99 703.75v10.31M723.72 703.75v10.31M590.1 703.75H723.72M570.75 699.14h-10.31M570.75 670.64h-10.31M570.75 642.13h-10.31M570.75 613.63h-10.31M570.75 585.12h-10.31M570.75 699.14V585.12"/>
</g>
<g font-size="17.2" text-anchor="middle">
<text x="590.1" y="741.17">10</text>
<text x="643.55" y="741.17">20</text>
<text x="696.99" y="741.17">30</text>
<text transform="translate(546.4 699.74) rotate(-90)">0</text>
<text transform="translate(546.4 642.73) rotate(-90)">400</text>
<text transform="translate(546.4 585.72) rotate(-90)">800</text>
<text x="724.77" y="606.58" text-anchor="end">2005</text>
</g>
<g fill="none" stroke-width="0.8">
<g clip-path="url(#c18)">
<g stroke="#000">
<circle cx="805.58" cy="699" r="3.9"/>
<circle cx="810.93" cy="699" r="3.9"/>
<circle cx="816.27" cy="696.5" r="3.9"/>
<circle cx="821.62" cy="691.5" r="3.9"/>
<circle cx="826.96" cy="680" r="3.9"/>
<circle cx="832.3" cy="666.25" r="3.9"/>
<circle cx="837.65" cy="655" r="3.9"/>
<circle cx="842.99" cy="631.25" r="3.9"/>
<circle cx="848.34" cy="596.88" r="3.9"/>
<circle cx="853.68" cy="586.5" r="3.9"/>
<circle cx="859.03" cy="595.88" r="3.9"/>
<circle cx="864.37" cy="616.25" r="3.9"/>
<circle cx="869.72" cy="625.88" r="3.9"/>
<circle cx="875.06" cy="636.5" r="3.9"/>
<circle cx="880.41" cy="653.62" r="3.9"/>
<circle cx="885.75" cy="672.38" r="3.9"/>
<circle cx="891.1" cy="685.25" r="3.9"/>
<circle cx="896.44" cy="692.75" r="3.9"/>
<circle cx="901.79" cy="696.5" r="3.9"/>
<circle cx="907.13" cy="697.75" r="3.9"/>
<circle cx="912.48" cy="698.38" r="3.9"/>
<circle cx="917.82" cy="699.14" r="3.9"/>
<circle cx="923.17" cy="699.14" r="3.9"/>
<circle cx="928.51" cy="699.14" r="3.9"/>
<circle cx="933.85" cy="699.14" r="3.9"/>
<circle cx="939.2" cy="699.14" r="3.9"/>
<circle cx="944.54" cy="699.14" r="3.9"/>
<circle cx="949.89" cy="699.14" r="3.9"/>
</g>
<polyline stroke="#000" points="805.58,698.38 810.93,696.5 816.27,694.62 821.62,692.75 826.96,690.88 832.3,686.75 837.65,668.38 842.99,633.38 848.34,601.12 853.68,586.12 859.03,592.75 864.37,609 869.72,625.5 875.06,641.88 880.41,659 885.75,673.12 891.1,685.5 896.44,694 901.79,697.62 907.13,698.5 912.48,699.14 917.82,699.14 923.17,699.14 928.51,699.14 933.85,699.14 939.2,699.14 944.54,699.14 949.89,699.14"/>
<g stroke="#f00">
<circle cx="800.24" cy="699" r="3.9"/>
<circle cx="805.58" cy="697.75" r="3.9"/>
<circle cx="810.93" cy="687.75" r="3.9"/>
<circle cx="816.27" cy="662.12" r="3.9"/>
<circle cx="821.62" cy="628.38" r="3.9"/>
<circle cx="826.96" cy="597.12" r="3.9"/>
<circle cx="832.3" cy="596.12" r="3.9"/>
<circle cx="837.65" cy="637.12" r="3.9"/>
<circle cx="842.99" cy="651.12" r="3.9"/>
<circle cx="848.34" cy="625.62" r="3.9"/>
<circle cx="853.68" cy="595.88" r="3.9"/>
<circle cx="859.03" cy="584" r="3.9"/>
<circle cx="864.37" cy="598.38" r="3.9"/>
<circle cx="869.72" cy="623.38" r="3.9"/>
<circle cx="875.06" cy="649" r="3.9"/>
<circle cx="880.41" cy="660.88" r="3.9"/>
<circle cx="885.75" cy="671.5" r="3.9"/>
<circle cx="891.1" cy="675" r="3.9"/>
<circle cx="896.44" cy="684.62" r="3.9"/>
<circle cx="901.79" cy="686.12" r="3.9"/>
<circle cx="907.13" cy="694.62" r="3.9"/>
<circle cx="912.48" cy="697.12" r="3.9"/>
<circle cx="917.82" cy="698.38" r="3.9"/>
<circle cx="923.17" cy="699.14" r="3.9"/>
<circle cx="928.51" cy="699.14" r="3.9"/>
</g>
<polyline stroke="#f00" points="800.24,697.12 805.58,686.5 810.93,670.25 816.27,665 821.62,679 826.96,691.5 832.3,690.25 837.65,666.5 842.99,615.25 848.34,594 853.68,624 859.03,648.62 864.37,626.5 869.72,607.12 875.06,626.5 880.41,654 885.75,671.5 891.1,684 896.44,692.75 901.79,697.12 907.13,698.38 912.48,699.14 917.82,699.14 923.17,699.14 928.51,699.14"/>
</g>
<rect x="794.25" y="579.38" width="161.62" height="124.38" stroke="#000"/>
<path stroke="#000" d="M813.6 703.75v10.31M840.32 703.75v10.31M867.05 703.75v10.31M893.77 703.75v10.31M920.49 703.75v10.31M947.22 703.75v10.31M813.6 703.75H947.22M794.25 699.14h-10.31M794.25 675.64h-10.31M794.25 652.14h-10.31M794.25 628.64h-10.31M794.25 605.13h-10.31M794.25 581.63h-10.31M794.25 699.14V581.63"/>
</g>
<g font-size="17.2" text-anchor="middle">
<text x="813.6" y="741.17">10</text>
<text x="867.05" y="741.17">20</text>
<text x="920.49" y="741.17">30</text>
<text transform="translate(769.9 699.74) rotate(-90)">0</text>
<text transform="translate(769.9 652.74) rotate(-90)">200</text>
<text transform="translate(769.9 582.23) rotate(-90)">500</text>
<text x="948.27" y="606.58" text-anchor="end">2006</text>
</g>
<g fill="none" stroke-width="0.8">
<g clip-path="url(#c19)">
<g stroke="#000">
<circle cx="1029.08" cy="699" r="3.9"/>
<circle cx="1034.43" cy="699" r="3.9"/>
<circle cx="1039.77" cy="695.88" r="3.9"/>
<circle cx="1045.12" cy="695.5" r="3.9"/>
<circle cx="1050.46" cy="695.88" r="3.9"/>
<circle cx="1055.8" cy="694.62" r="3.9"/>
<circle cx="1061.15" cy="690.88" r="3.9"/>
<circle cx="1066.49" cy="682.12" r="3.9"/>
<circle cx="1071.84" cy="675.88" r="3.9"/>
<circle cx="1077.18" cy="672.75" r="3.9"/>
<circle cx="1082.53" cy="676.5" r="3.9"/>
<circle cx="1087.87" cy="679.62" r="3.9"/>
<circle cx="1093.22" cy="679.62" r="3.9"/>
<circle cx="1098.56" cy="681.25" r="3.9"/>
<circle cx="1103.91" cy="686.5" r="3.9"/>
<circle cx="1109.25" cy="691.5" r="3.9"/>
<circle cx="1114.6" cy="695.88" r="3.9"/>
<circle cx="1119.94" cy="697.75" r="3.9"/>
<circle cx="1125.29" cy="698.38" r="3.9"/>
<circle cx="1130.63" cy="698.75" r="3.9"/>
<circle cx="1135.98" cy="699.14" r="3.9"/>
<circle cx="1141.32" cy="699.14" r="3.9"/>
<circle cx="1146.67" cy="699.14" r="3.9"/>
<circle cx="1152.01" cy="699.14" r="3.9"/>
<circle cx="1157.35" cy="699.14" r="3.9"/>
<circle cx="1162.7" cy="699.14" r="3.9"/>
<circle cx="1168.04" cy="699.14" r="3.9"/>
<circle cx="1173.39" cy="699.14" r="3.9"/>
</g>
<polyline stroke="#000" points="1029.08,699 1034.43,697.12 1039.77,695 1045.12,694.25 1050.46,695.5 1055.8,695 1061.15,691.5 1066.49,682.75 1071.84,675.25 1077.18,671.25 1082.53,674 1087.87,677.75 1093.22,681.5 1098.56,685.25 1103.91,689 1109.25,692.75 1114.6,695.88 1119.94,697.75 1125.29,698.62 1130.63,699.14 1135.98,699.14 1141.32,699.14 1146.67,699.14 1152.01,699.14 1157.35,699.14 1162.7,699.14 1168.04,699.14 1173.39,699.14"/>
<g stroke="#f00">
<circle cx="1023.74" cy="699" r="3.9"/>
<circle cx="1029.08" cy="698.38" r="3.9"/>
<circle cx="1034.43" cy="691.5" r="3.9"/>
<circle cx="1039.77" cy="681.12" r="3.9"/>
<circle cx="1045.12" cy="668" r="3.9"/>
<circle cx="1050.46" cy="668.62" r="3.9"/>
<circle cx="1055.8" cy="681.12" r="3.9"/>
<circle cx="1061.15" cy="666.5" r="3.9"/>
<circle cx="1066.49" cy="623.62" r="3.9"/>
<circle cx="1071.84" cy="584" r="3.9"/>
<circle cx="1077.18" cy="590.25" r="3.9"/>
<circle cx="1082.53" cy="632.5" r="3.9"/>
<circle cx="1087.87" cy="670.88" r="3.9"/>
<circle cx="1093.22" cy="682.12" r="3.9"/>
<circle cx="1098.56" cy="681.5" r="3.9"/>
<circle cx="1103.91" cy="684.62" r="3.9"/>
<circle cx="1109.25" cy="685.88" r="3.9"/>
<circle cx="1114.6" cy="690.25" r="3.9"/>
<circle cx="1119.94" cy="692.12" r="3.9"/>
<circle cx="1125.29" cy="695.25" r="3.9"/>
<circle cx="1130.63" cy="697.12" r="3.9"/>
<circle cx="1135.98" cy="698.38" r="3.9"/>
<circle cx="1141.32" cy="699.14" r="3.9"/>
<circle cx="1146.67" cy="699.14" r="3.9"/>
<circle cx="1152.01" cy="699.14" r="3.9"/>
</g>
<polyline stroke="#f00" points="1023.74,699 1029.08,696.5 1034.43,692.75 1039.77,691.5 1045.12,694 1050.46,697.5 1055.8,697.12 1061.15,690.25 1066.49,676.5 1071.84,668.12 1077.18,677.75 1082.53,685 1087.87,680.25 1093.22,679.25 1098.56,682.75 1103.91,687.75 1109.25,691.5 1114.6,694.62 1119.94,697.12 1125.29,698.38 1130.63,699.14 1135.98,699.14 1141.32,699.14 1146.67,699.14 1152.01,699.14"/>
</g>
<rect x="1017.75" y="579.38" width="161.62" height="124.38" stroke="#000"/>
<path stroke="#000" d="M1037.1 703.75v10.31M1063.82 703.75v10.31M1090.55 703.75v10.31M1117.27 703.75v10.31M1143.99 703.75v10.31M1170.72 703.75v10.31M1037.1 703.75H1170.72M1017.75 699.14h-10.31M1017.75 668.79h-10.31M1017.75 638.44h-10.31M1017.75 608.08h-10.31M1017.75 699.14V608.08"/>
</g>
<g font-size="17.2" text-anchor="middle">
<text x="1037.1" y="741.17">10</text>
<text x="1090.55" y="741.17">20</text>
<text x="1143.99" y="741.17">30</text>
<text transform="translate(993.4 699.74) rotate(-90)">0</text>
<text transform="translate(993.4 639.04) rotate(-90)">1000</text>
<text x="1171.78" y="606.58" text-anchor="end">2007</text>
</g>
<g fill="none" stroke-width="0.8">
<g clip-path="url(#c20)">
<g stroke="#000">
<circle cx="135.08" cy="885.38" r="3.9"/>
<circle cx="140.43" cy="885.38" r="3.9"/>
<circle cx="145.77" cy="884.5" r="3.9"/>
<circle cx="151.12" cy="880.38" r="3.9"/>
<circle cx="156.46" cy="872.88" r="3.9"/>
<circle cx="161.8" cy="860.62" r="3.9"/>
<circle cx="167.15" cy="843.12" r="3.9"/>
<circle cx="172.49" cy="806.88" r="3.9"/>
<circle cx="177.84" cy="771.88" r="3.9"/>
<circle cx="183.18" cy="773.88" r="3.9"/>
<circle cx="188.53" cy="792.25" r="3.9"/>
<circle cx="193.87" cy="802.62" r="3.9"/>
<circle cx="199.22" cy="795" r="3.9"/>
<circle cx="204.56" cy="803.5" r="3.9"/>
<circle cx="209.91" cy="831.62" r="3.9"/>
<circle cx="215.25" cy="853.5" r="3.9"/>
<circle cx="220.6" cy="871.62" r="3.9"/>
<circle cx="225.94" cy="881.62" r="3.9"/>
<circle cx="231.29" cy="884.5" r="3.9"/>
<circle cx="236.63" cy="885.12" r="3.9"/>
<circle cx="241.98" cy="885.39" r="3.9"/>
<circle cx="247.32" cy="885.39" r="3.9"/>
<circle cx="252.67" cy="885.39" r="3.9"/>
<circle cx="258.01" cy="885.39" r="3.9"/>
<circle cx="263.35" cy="885.39" r="3.9"/>
<circle cx="268.7" cy="885.39" r="3.9"/>
<circle cx="274.04" cy="885.39" r="3.9"/>
<circle cx="279.39" cy="885.39" r="3.9"/>
</g>
<polyline stroke="#000" points="135.08,885.38 140.43,884.75 145.77,883.5 151.12,882.25 156.46,879.75 161.8,875.75 167.15,858.5 172.49,818.5 177.84,782.88 183.18,770 188.53,775.38 193.87,787.5 199.22,797.25 204.56,810.38 209.91,829.12 215.25,849.12 220.6,867.5 225.94,879.38 231.29,884.12 236.63,885.12 241.98,885.39 247.32,885.39 252.67,885.39 258.01,885.39 263.35,885.39 268.7,885.39 274.04,885.39 279.39,885.39"/>
<g stroke="#f00">
<circle cx="129.74" cy="885.12" r="3.9"/>
<circle cx="135.08" cy="880.75" r="3.9"/>
<circle cx="140.43" cy="867.25" r="3.9"/>
<circle cx="145.77" cy="843.5" r="3.9"/>
<circle cx="151.12" cy="831.38" r="3.9"/>
<circle cx="156.46" cy="849.12" r="3.9"/>
<circle cx="161.8" cy="861" r="3.9"/>
<circle cx="167.15" cy="843.25" r="3.9"/>
<circle cx="172.49" cy="812.62" r="3.9"/>
<circle cx="177.84" cy="772.62" r="3.9"/>
<circle cx="183.18" cy="770.12" r="3.9"/>
<circle cx="188.53" cy="789.5" r="3.9"/>
<circle cx="193.87" cy="792" r="3.9"/>
<circle cx="199.22" cy="794.12" r="3.9"/>
<circle cx="204.56" cy="819.75" r="3.9"/>
<circle cx="209.91" cy="827.62" r="3.9"/>
<circle cx="215.25" cy="843.12" r="3.9"/>
<circle cx="220.6" cy="858.75" r="3.9"/>
<circle cx="225.94" cy="866.62" r="3.9"/>
<circle cx="231.29" cy="875.38" r="3.9"/>
<circle cx="236.63" cy="881" r="3.9"/>
<circle cx="241.98" cy="882.88" r="3.9"/>
<circle cx="247.32" cy="884.75" r="3.9"/>
<circle cx="252.67" cy="885.39" r="3.9"/>
<circle cx="258.01" cy="885.39" r="3.9"/>
</g>
<polyline stroke="#f00" points="129.74,884.75 135.08,877.25 140.43,867.25 145.77,863.25 151.12,872.25 156.46,879.12 161.8,876.62 167.15,852.25 172.49,803.5 177.84,773.5 183.18,802.25 188.53,824.75 193.87,798.5 199.22,764.12 204.56,794.75 209.91,823.5 215.25,846 220.6,864.75 225.94,877.25 231.29,883.5 236.63,885.12 241.98,885.39 247.32,885.39 252.67,885.39 258.01,885.39"/>
</g>
<rect x="123.75" y="765.62" width="161.62" height="124.38" stroke="#000"/>
<path stroke="#000" d="M143.1 890v10.31M169.82 890v10.31M196.55 890v10.31M223.27 890v10.31M249.99 890v10.31M276.72 890v10.31M143.1 890H276.72M123.75 885.39h-10.31M123.75 859.83h-10.31M123.75 834.27h-10.31M123.75 808.7h-10.31M123.75 783.14h-10.31M123.75 885.39V783.14"/>
</g>
<g font-size="17.2" text-anchor="middle">
<text x="143.1" y="927.42">10</text>
<text x="196.55" y="927.42">20</text>
<text x="249.99" y="927.42">30</text>
<text transform="translate(99.4 885.99) rotate(-90)">0</text>
<text transform="translate(99.4 834.87) rotate(-90)">200</text>
<text transform="translate(99.4 783.74) rotate(-90)">400</text>
<text x="277.77" y="792.83" text-anchor="end">2008</text>
</g>
<g fill="none" stroke-width="0.8">
<g clip-path="url(#c21)">
<g stroke="#000">
<circle cx="358.58" cy="885.38" r="3.9"/>
<circle cx="363.93" cy="885.38" r="3.9"/>
<circle cx="369.27" cy="885.38" r="3.9"/>
<circle cx="374.62" cy="885.12" r="3.9"/>
<circle cx="379.96" cy="884.12" r="3.9"/>
<circle cx="385.3" cy="878.5" r="3.9"/>
<circle cx="390.65" cy="870.62" r="3.9"/>
<circle cx="395.99" cy="851.88" r="3.9"/>
<circle cx="401.34" cy="824.75" r="3.9"/>
<circle cx="406.68" cy="801.38" r="3.9"/>
<circle cx="412.03" cy="793.88" r="3.9"/>
<circle cx="417.37" cy="801" r="3.9"/>
<circle cx="422.72" cy="816" r="3.9"/>
<circle cx="428.06" cy="818.75" r="3.9"/>
<circle cx="433.41" cy="825.12" r="3.9"/>
<circle cx="438.75" cy="846.62" r="3.9"/>
<circle cx="444.1" cy="868.5" r="3.9"/>
<circle cx="449.44" cy="881" r="3.9"/>
<circle cx="454.79" cy="884.5" r="3.9"/>
<circle cx="460.13" cy="885.12" r="3.9"/>
<circle cx="465.48" cy="885.39" r="3.9"/>
<circle cx="470.82" cy="885.39" r="3.9"/>
<circle cx="476.17" cy="885.39" r="3.9"/>
<circle cx="481.51" cy="885.39" r="3.9"/>
<circle cx="486.85" cy="885.39" r="3.9"/>
<circle cx="492.2" cy="885.39" r="3.9"/>
<circle cx="497.54" cy="885.39" r="3.9"/>
<circle cx="502.89" cy="885.39" r="3.9"/>
</g>
<polyline stroke="#000" points="358.58,885.38 363.93,885.12 369.27,884.75 374.62,884.12 379.96,882.88 385.3,878.88 390.65,867.25 395.99,842.25 401.34,812.25 406.68,803.5 412.03,804.12 417.37,809.75 422.72,814.75 428.06,821.88 433.41,831.25 438.75,845 444.1,863.75 449.44,878.12 454.79,884.12 460.13,885.12 465.48,885.39 470.82,885.39 476.17,885.39 481.51,885.39 486.85,885.39 492.2,885.39 497.54,885.39 502.89,885.39"/>
<g stroke="#f00">
<circle cx="353.24" cy="885.38" r="3.9"/>
<circle cx="358.58" cy="884.12" r="3.9"/>
<circle cx="363.93" cy="878.5" r="3.9"/>
<circle cx="369.27" cy="866.62" r="3.9"/>
<circle cx="374.62" cy="852.88" r="3.9"/>
<circle cx="379.96" cy="849.12" r="3.9"/>
<circle cx="385.3" cy="866.62" r="3.9"/>
<circle cx="390.65" cy="857.88" r="3.9"/>
<circle cx="395.99" cy="819.38" r="3.9"/>
<circle cx="401.34" cy="782" r="3.9"/>
<circle cx="406.68" cy="770.12" r="3.9"/>
<circle cx="412.03" cy="808.12" r="3.9"/>
<circle cx="417.37" cy="831.88" r="3.9"/>
<circle cx="422.72" cy="844.5" r="3.9"/>
<circle cx="428.06" cy="840" r="3.9"/>
<circle cx="433.41" cy="828.12" r="3.9"/>
<circle cx="438.75" cy="832.88" r="3.9"/>
<circle cx="444.1" cy="846" r="3.9"/>
<circle cx="449.44" cy="861.62" r="3.9"/>
<circle cx="454.79" cy="874.5" r="3.9"/>
<circle cx="460.13" cy="879.12" r="3.9"/>
<circle cx="465.48" cy="882.88" r="3.9"/>
<circle cx="470.82" cy="884.75" r="3.9"/>
<circle cx="476.17" cy="885.39" r="3.9"/>
<circle cx="481.51" cy="885.39" r="3.9"/>
</g>
<polyline stroke="#f00" points="353.24,885.12 358.58,879.75 363.93,874.12 369.27,873.5 374.62,878.5 379.96,882.25 385.3,877.25 390.65,856 395.99,816 401.34,803.5 406.68,826 412.03,835.38 417.37,802.25 422.72,774.5 428.06,796 433.41,821 438.75,836 444.1,856 449.44,874.75 454.79,882.88 460.13,884.75 465.48,885.39 470.82,885.39 476.17,885.39 481.51,885.39"/>
</g>
<rect x="347.25" y="765.62" width="161.62" height="124.38" stroke="#000"/>
<path stroke="#000" d="M366.6 890v10.31M393.32 890v10.31M420.05 890v10.31M446.77 890v10.31M473.49 890v10.31M500.22 890v10.31M366.6 890H500.22M347.25 885.39h-10.31M347.25 856.11h-10.31M347.25 826.83h-10.31M347.25 797.55h-10.31M347.25 768.27h-10.31M347.25 885.39V768.27"/>
</g>
<g font-size="17.2" text-anchor="middle">
<text x="366.6" y="927.42">10</text>
<text x="420.05" y="927.42">20</text>
<text x="473.49" y="927.42">30</text>
<text transform="translate(322.9 885.99) rotate(-90)">0</text>
<text transform="translate(322.9 827.43) rotate(-90)">200</text>
<text transform="translate(322.9 768.87) rotate(-90)">400</text>
<text x="501.27" y="792.83" text-anchor="end">2009</text>
</g>
<g fill="none" stroke-width="0.8">
<g clip-path="url(#c22)">
<g stroke="#000">
<circle cx="582.08" cy="885.12" r="3.9"/>
<circle cx="587.43" cy="882.88" r="3.9"/>
<circle cx="592.77" cy="879.75" r="3.9"/>
<circle cx="598.12" cy="873.5" r="3.9"/>
<circle cx="603.46" cy="875" r="3.9"/>
<circle cx="608.8" cy="878.5" r="3.9"/>
<circle cx="614.15" cy="872" r="3.9"/>
<circle cx="619.49" cy="847.25" r="3.9"/>
<circle cx="624.84" cy="793.75" r="3.9"/>
<circle cx="630.18" cy="770.12" r="3.9"/>
<circle cx="635.53" cy="779.12" r="3.9"/>
<circle cx="640.87" cy="787.25" r="3.9"/>
<circle cx="646.22" cy="805" r="3.9"/>
<circle cx="651.56" cy="801" r="3.9"/>
<circle cx="656.91" cy="804.38" r="3.9"/>
<circle cx="662.25" cy="818.5" r="3.9"/>
<circle cx="667.6" cy="839.5" r="3.9"/>
<circle cx="672.94" cy="859.38" r="3.9"/>
<circle cx="678.29" cy="874.12" r="3.9"/>
<circle cx="683.63" cy="880.38" r="3.9"/>
<circle cx="688.98" cy="884.12" r="3.9"/>
<circle cx="694.32" cy="885.12" r="3.9"/>
<circle cx="699.67" cy="885.39" r="3.9"/>
<circle cx="705.01" cy="885.39" r="3.9"/>
<circle cx="710.35" cy="885.39" r="3.9"/>
<circle cx="715.7" cy="885.39" r="3.9"/>
<circle cx="721.04" cy="885.39" r="3.9"/>
<circle cx="726.39" cy="885.39" r="3.9"/>
</g>
<polyline stroke="#000" points="582.08,885.38 587.43,883.75 592.77,881 598.12,877 603.46,879.12 608.8,874.5 614.15,861 619.49,831 624.84,796 630.18,784.12 635.53,785.75 640.87,788.88 646.22,790.38 651.56,795.38 656.91,807.25 662.25,823.88 667.6,845.12 672.94,866.38 678.29,879.38 683.63,884.12 688.98,885.39 694.32,885.39 699.67,885.39 705.01,885.39 710.35,885.39 715.7,885.39 721.04,885.39 726.39,885.39"/>
<g stroke="#f00">
<circle cx="576.74" cy="885.38" r="3.9"/>
<circle cx="582.08" cy="884.75" r="3.9"/>
<circle cx="587.43" cy="873.5" r="3.9"/>
<circle cx="592.77" cy="858.5" r="3.9"/>
<circle cx="598.12" cy="849.12" r="3.9"/>
<circle cx="603.46" cy="866" r="3.9"/>
<circle cx="608.8" cy="876" r="3.9"/>
<circle cx="614.15" cy="868.75" r="3.9"/>
<circle cx="619.49" cy="838.88" r="3.9"/>
<circle cx="624.84" cy="793.75" r="3.9"/>
<circle cx="630.18" cy="779.5" r="3.9"/>
<circle cx="635.53" cy="785" r="3.9"/>
<circle cx="640.87" cy="781.62" r="3.9"/>
<circle cx="646.22" cy="770.12" r="3.9"/>
<circle cx="651.56" cy="783.25" r="3.9"/>
<circle cx="656.91" cy="813.25" r="3.9"/>
<circle cx="662.25" cy="818.5" r="3.9"/>
<circle cx="667.6" cy="822.5" r="3.9"/>
<circle cx="672.94" cy="838.12" r="3.9"/>
<circle cx="678.29" cy="859.12" r="3.9"/>
<circle cx="683.63" cy="875.38" r="3.9"/>
<circle cx="688.98" cy="881.62" r="3.9"/>
<circle cx="694.32" cy="884.12" r="3.9"/>
<circle cx="699.67" cy="885.12" r="3.9"/>
<circle cx="705.01" cy="885.39" r="3.9"/>
</g>
<polyline stroke="#f00" points="576.74,881 582.08,868.5 587.43,855.38 592.77,857.25 598.12,873.5 603.46,879.75 608.8,871 614.15,838.5 619.49,802.88 624.84,796.62 630.18,821.62 635.53,814.75 640.87,750.75 646.22,733.5 651.56,752.62 656.91,781.62 662.25,811 667.6,838.5 672.94,868.5 678.29,882.25 683.63,884.75 688.98,885.39 694.32,885.39 699.67,885.39 705.01,885.39"/>
</g>
<rect x="570.75" y="765.62" width="161.62" height="124.38" stroke="#000"/>
<path stroke="#000" d="M590.1 890v10.31M616.82 890v10.31M643.55 890v10.31M670.27 890v10.31M696.99 890v10.31M723.72 890v10.31M590.1 890H723.72M570.75 885.39h-10.31M570.75 854.23h-10.31M570.75 823.08h-10.31M570.75 791.92h-10.31M570.75 885.39V791.92"/>
</g>
<g font-size="17.2" text-anchor="middle">
<text x="590.1" y="927.42">10</text>
<text x="643.55" y="927.42">20</text>
<text x="696.99" y="927.42">30</text>
<text transform="translate(546.4 885.99) rotate(-90)">0</text>
<text transform="translate(546.4 823.68) rotate(-90)">100</text>
<text x="724.77" y="792.83" text-anchor="end">2010</text>
</g>
<g fill="none" stroke-width="0.8">
<g clip-path="url(#c23)">
<g stroke="#000">
<circle cx="805.58" cy="885.12" r="3.9"/>
<circle cx="810.93" cy="884.5" r="3.9"/>
<circle cx="816.27" cy="882" r="3.9"/>
<circle cx="821.62" cy="877" r="3.9"/>
<circle cx="826.96" cy="872" r="3.9"/>
<circle cx="832.3" cy="864.75" r="3.9"/>
<circle cx="837.65" cy="860.62" r="3.9"/>
<circle cx="842.99" cy="848.5" r="3.9"/>
<circle cx="848.34" cy="804.38" r="3.9"/>
<circle cx="853.68" cy="770.12" r="3.9"/>
<circle cx="859.03" cy="807" r="3.9"/>
<circle cx="864.37" cy="827.5" r="3.9"/>
<circle cx="869.72" cy="844.75" r="3.9"/>
<circle cx="875.06" cy="847.88" r="3.9"/>
<circle cx="880.41" cy="848.88" r="3.9"/>
<circle cx="885.75" cy="856" r="3.9"/>
<circle cx="891.1" cy="862.88" r="3.9"/>
<circle cx="896.44" cy="869.75" r="3.9"/>
<circle cx="901.79" cy="876.62" r="3.9"/>
<circle cx="907.13" cy="881.38" r="3.9"/>
<circle cx="912.48" cy="883.5" r="3.9"/>
<circle cx="917.82" cy="884.75" r="3.9"/>
<circle cx="923.17" cy="885.39" r="3.9"/>
<circle cx="928.51" cy="885.39" r="3.9"/>
<circle cx="933.85" cy="885.39" r="3.9"/>
<circle cx="939.2" cy="885.39" r="3.9"/>
<circle cx="944.54" cy="885.39" r="3.9"/>
<circle cx="949.89" cy="885.39" r="3.9"/>
</g>
<polyline stroke="#000" points="805.58,884.75 810.93,882.88 816.27,881 821.62,879.12 826.96,876.88 832.3,872.62 837.65,861 842.99,836.88 848.34,808.5 853.68,793.25 859.03,803.5 864.37,820.62 869.72,836 875.06,847.25 880.41,851.88 885.75,857.5 891.1,866.25 896.44,875 901.79,881.12 907.13,884.12 912.48,885.39 917.82,885.39 923.17,885.39 928.51,885.39 933.85,885.39 939.2,885.39 944.54,885.39 949.89,885.39"/>
<g stroke="#f00">
<circle cx="800.24" cy="885.38" r="3.9"/>
<circle cx="805.58" cy="884.75" r="3.9"/>
<circle cx="810.93" cy="878.25" r="3.9"/>
<circle cx="816.27" cy="860.62" r="3.9"/>
<circle cx="821.62" cy="848.12" r="3.9"/>
<circle cx="826.96" cy="850.75" r="3.9"/>
<circle cx="832.3" cy="867.62" r="3.9"/>
<circle cx="837.65" cy="874.38" r="3.9"/>
<circle cx="842.99" cy="862.25" r="3.9"/>
<circle cx="848.34" cy="823.12" r="3.9"/>
<circle cx="853.68" cy="801" r="3.9"/>
<circle cx="859.03" cy="823.5" r="3.9"/>
<circle cx="864.37" cy="848.5" r="3.9"/>
<circle cx="869.72" cy="850.38" r="3.9"/>
<circle cx="875.06" cy="854.38" r="3.9"/>
<circle cx="880.41" cy="855.38" r="3.9"/>
<circle cx="885.75" cy="856.62" r="3.9"/>
<circle cx="891.1" cy="859.38" r="3.9"/>
<circle cx="896.44" cy="861.62" r="3.9"/>
<circle cx="901.79" cy="867.5" r="3.9"/>
<circle cx="907.13" cy="873.12" r="3.9"/>
<circle cx="912.48" cy="879.75" r="3.9"/>
<circle cx="917.82" cy="884.12" r="3.9"/>
<circle cx="923.17" cy="885.12" r="3.9"/>
<circle cx="928.51" cy="885.39" r="3.9"/>
</g>
<polyline stroke="#f00" points="800.24,880.38 805.58,871.62 810.93,863.75 816.27,865.38 821.62,877.25 826.96,881.62 832.3,875.38 837.65,853.5 842.99,819.5 848.34,816.62 853.68,841 859.03,855.38 864.37,841.62 869.72,831.38 875.06,841.62 880.41,849.75 885.75,857.88 891.1,869.75 896.44,880.38 901.79,884.12 907.13,884.75 912.48,885.39 917.82,885.39 923.17,885.39 928.51,885.39"/>
</g>
<rect x="794.25" y="765.62" width="161.62" height="124.38" stroke="#000"/>
<path stroke="#000" d="M813.6 890v10.31M840.32 890v10.31M867.05 890v10.31M893.77 890v10.31M920.49 890v10.31M947.22 890v10.31M813.6 890H947.22M794.25 885.39h-10.31M794.25 866.44h-10.31M794.25 847.49h-10.31M794.25 828.53h-10.31M794.25 809.58h-10.31M794.25 790.63h-10.31M794.25 771.67h-10.31M794.25 885.39V771.67"/>
</g>
<g font-size="17.2" text-anchor="middle">
<text x="813.6" y="927.42">10</text>
<text x="867.05" y="927.42">20</text>
<text x="920.49" y="927.42">30</text>
<text transform="translate(769.9 885.99) rotate(-90)">0</text>
<text transform="translate(769.9 829.13) rotate(-90)">150</text>
<text transform="translate(769.9 772.27) rotate(-90)">300</text>
<text x="948.27" y="792.83" text-anchor="end">2011</text>
</g>
<g fill="none" stroke-width="0.8">
<g clip-path="url(#c24)">
<g stroke="#000">
<circle cx="1029.08" cy="885.12" r="3.9"/>
<circle cx="1034.43" cy="884.5" r="3.9"/>
<circle cx="1039.77" cy="880.12" r="3.9"/>
<circle cx="1045.12" cy="873.12" r="3.9"/>
<circle cx="1050.46" cy="867.88" r="3.9"/>
<circle cx="1055.8" cy="862" r="3.9"/>
<circle cx="1061.15" cy="849.12" r="3.9"/>
<circle cx="1066.49" cy="819.12" r="3.9"/>
<circle cx="1071.84" cy="776.38" r="3.9"/>
<circle cx="1077.18" cy="770.12" r="3.9"/>
<circle cx="1082.53" cy="801.62" r="3.9"/>
<circle cx="1087.87" cy="817.88" r="3.9"/>
<circle cx="1093.22" cy="837.25" r="3.9"/>
<circle cx="1098.56" cy="843.5" r="3.9"/>
<circle cx="1103.91" cy="846.88" r="3.9"/>
<circle cx="1109.25" cy="864.12" r="3.9"/>
<circle cx="1114.6" cy="872.88" r="3.9"/>
<circle cx="1119.94" cy="877.25" r="3.9"/>
<circle cx="1125.29" cy="879.12" r="3.9"/>
<circle cx="1130.63" cy="882.25" r="3.9"/>
<circle cx="1135.98" cy="884.12" r="3.9"/>
<circle cx="1141.32" cy="884.75" r="3.9"/>
<circle cx="1146.67" cy="885.39" r="3.9"/>
<circle cx="1152.01" cy="885.39" r="3.9"/>
<circle cx="1157.35" cy="885.39" r="3.9"/>
<circle cx="1162.7" cy="885.39" r="3.9"/>
<circle cx="1168.04" cy="885.39" r="3.9"/>
<circle cx="1173.39" cy="885.39" r="3.9"/>
</g>
<polyline stroke="#000" points="1029.08,884.75 1034.43,883.5 1039.77,881.62 1045.12,879.75 1050.46,878.12 1055.8,872.88 1061.15,852.88 1066.49,821 1071.84,785 1077.18,774.12 1082.53,788.5 1087.87,813.5 1093.22,833.25 1098.56,847.88 1103.91,859.75 1109.25,868.88 1114.6,875.62 1119.94,880.38 1125.29,882.88 1130.63,884.12 1135.98,885.39 1141.32,885.39 1146.67,885.39 1152.01,885.39 1157.35,885.39 1162.7,885.39 1168.04,885.39 1173.39,885.39"/>
<g stroke="#f00">
<circle cx="1023.74" cy="885.38" r="3.9"/>
<circle cx="1029.08" cy="881.62" r="3.9"/>
<circle cx="1034.43" cy="867.25" r="3.9"/>
<circle cx="1039.77" cy="838.12" r="3.9"/>
<circle cx="1045.12" cy="816.88" r="3.9"/>
<circle cx="1050.46" cy="811.38" r="3.9"/>
<circle cx="1055.8" cy="837" r="3.9"/>
<circle cx="1061.15" cy="861" r="3.9"/>
<circle cx="1066.49" cy="868.88" r="3.9"/>
<circle cx="1071.84" cy="859.12" r="3.9"/>
<circle cx="1077.18" cy="836.38" r="3.9"/>
<circle cx="1082.53" cy="830.62" r="3.9"/>
<circle cx="1087.87" cy="848.88" r="3.9"/>
<circle cx="1093.22" cy="857.25" r="3.9"/>
<circle cx="1098.56" cy="865.12" r="3.9"/>
<circle cx="1103.91" cy="873.5" r="3.9"/>
<circle cx="1109.25" cy="876.25" r="3.9"/>
<circle cx="1114.6" cy="876.62" r="3.9"/>
<circle cx="1119.94" cy="877.88" r="3.9"/>
<circle cx="1125.29" cy="879.12" r="3.9"/>
<circle cx="1130.63" cy="882.25" r="3.9"/>
<circle cx="1135.98" cy="884.12" r="3.9"/>
<circle cx="1141.32" cy="884.75" r="3.9"/>
<circle cx="1146.67" cy="885.39" r="3.9"/>
<circle cx="1152.01" cy="885.39" r="3.9"/>
</g>
<polyline stroke="#f00" points="1023.74,879.75 1029.08,871 1034.43,864.12 1039.77,868.5 1045.12,877.88 1050.46,882 1055.8,875.38 1061.15,846 1066.49,811 1071.84,809.12 1077.18,841 1082.53,854.12 1087.87,842.25 1093.22,834.12 1098.56,847.25 1103.91,863.5 1109.25,872.25 1114.6,879.12 1119.94,882.88 1125.29,884.75 1130.63,885.39 1135.98,885.39 1141.32,885.39 1146.67,885.39 1152.01,885.39"/>
</g>
<rect x="1017.75" y="765.62" width="161.62" height="124.38" stroke="#000"/>
<path stroke="#000" d="M1037.1 890v10.31M1063.82 890v10.31M1090.55 890v10.31M1117.27 890v10.31M1143.99 890v10.31M1170.72 890v10.31M1037.1 890H1170.72M1017.75 885.39h-10.31M1017.75 867.89h-10.31M1017.75 850.39h-10.31M1017.75 832.89h-10.31M1017.75 815.39h-10.31M1017.75 797.88h-10.31M1017.75 780.38h-10.31M1017.75 885.39V780.38"/>
</g>
<g font-size="17.2" text-anchor="middle">
<text x="1037.1" y="927.42">10</text>
<text x="1090.55" y="927.42">20</text>
<text x="1143.99" y="927.42">30</text>
<text transform="translate(993.4 885.99) rotate(-90)">0</text>
<text transform="translate(993.4 833.49) rotate(-90)">150</text>
<text transform="translate(993.4 780.98) rotate(-90)">300</text>
<text x="1171.78" y="792.83" text-anchor="end">2012</text>
</g>
<g fill="none" stroke-width="0.8">
<g clip-path="url(#c25)">
<g stroke="#000">
<circle cx="135.08" cy="1071.38" r="3.9"/>
<circle cx="140.43" cy="1069.5" r="3.9"/>
<circle cx="145.77" cy="1062" r="3.9"/>
<circle cx="151.12" cy="1057" r="3.9"/>
<circle cx="156.46" cy="1050.5" r="3.9"/>
<circle cx="161.8" cy="1044.5" r="3.9"/>
<circle cx="167.15" cy="1037.25" r="3.9"/>
<circle cx="172.49" cy="1015.75" r="3.9"/>
<circle cx="177.84" cy="969.12" r="3.9"/>
<circle cx="183.18" cy="956.12" r="3.9"/>
<circle cx="188.53" cy="972" r="3.9"/>
<circle cx="193.87" cy="987" r="3.9"/>
<circle cx="199.22" cy="1014.5" r="3.9"/>
<circle cx="204.56" cy="1022" r="3.9"/>
<circle cx="209.91" cy="1029.88" r="3.9"/>
<circle cx="215.25" cy="1045.75" r="3.9"/>
<circle cx="220.6" cy="1056.75" r="3.9"/>
<circle cx="225.94" cy="1065.75" r="3.9"/>
<circle cx="231.29" cy="1067.62" r="3.9"/>
<circle cx="236.63" cy="1069.5" r="3.9"/>
<circle cx="241.98" cy="1070.75" r="3.9"/>
<circle cx="247.32" cy="1071.38" r="3.9"/>
<circle cx="252.67" cy="1071.64" r="3.9"/>
<circle cx="258.01" cy="1071.64" r="3.9"/>
<circle cx="263.35" cy="1071.64" r="3.9"/>
<circle cx="268.7" cy="1071.64" r="3.9"/>
<circle cx="274.04" cy="1071.64" r="3.9"/>
<circle cx="279.39" cy="1071.64" r="3.9"/>
</g>
<polyline stroke="#000" points="135.08,1070.38 140.43,1067.88 145.77,1066 151.12,1064.88 156.46,1063.62 161.8,1058.25 167.15,1037.62 172.49,1005.75 177.84,970.75 183.18,957.62 188.53,972 193.87,993.25 199.22,1014.12 204.56,1028.5 209.91,1041 215.25,1053.25 220.6,1062 225.94,1067.38 231.29,1069.88 236.63,1071 241.98,1071.64 247.32,1071.64 252.67,1071.64 258.01,1071.64 263.35,1071.64 268.7,1071.64 274.04,1071.64 279.39,1071.64"/>
<g stroke="#f00">
<circle cx="129.74" cy="1071.38" r="3.9"/>
<circle cx="135.08" cy="1068.25" r="3.9"/>
<circle cx="140.43" cy="1056.38" r="3.9"/>
<circle cx="145.77" cy="1036.12" r="3.9"/>
<circle cx="151.12" cy="1009.5" r="3.9"/>
<circle cx="156.46" cy="1006.38" r="3.9"/>
<circle cx="161.8" cy="1036.38" r="3.9"/>
<circle cx="167.15" cy="1053.25" r="3.9"/>
<circle cx="172.49" cy="1026.12" r="3.9"/>
<circle cx="177.84" cy="983.62" r="3.9"/>
<circle cx="183.18" cy="959.12" r="3.9"/>
<circle cx="188.53" cy="987" r="3.9"/>
<circle cx="193.87" cy="1038.88" r="3.9"/>
<circle cx="199.22" cy="1051.75" r="3.9"/>
<circle cx="204.56" cy="1052.88" r="3.9"/>
<circle cx="209.91" cy="1055.5" r="3.9"/>
<circle cx="215.25" cy="1055.5" r="3.9"/>
<circle cx="220.6" cy="1060.12" r="3.9"/>
<circle cx="225.94" cy="1065.12" r="3.9"/>
<circle cx="231.29" cy="1067" r="3.9"/>
<circle cx="236.63" cy="1068.88" r="3.9"/>
<circle cx="241.98" cy="1070.75" r="3.9"/>
<circle cx="247.32" cy="1071.38" r="3.9"/>
<circle cx="252.67" cy="1071.64" r="3.9"/>
<circle cx="258.01" cy="1071.64" r="3.9"/>
</g>
<polyline stroke="#f00" points="129.74,1067.62 135.08,1058.88 140.43,1050.75 145.77,1053.88 151.12,1063.88 156.46,1068 161.8,1060.12 167.15,1032 172.49,995.12 177.84,991.75 183.18,1020.75 188.53,1037 193.87,1020.75 199.22,1012.62 204.56,1028.25 209.91,1048.25 215.25,1058.25 220.6,1065.75 225.94,1068.88 231.29,1070.75 236.63,1071.64 241.98,1071.64 247.32,1071.64 252.67,1071.64 258.01,1071.64"/>
</g>
<rect x="123.75" y="951.88" width="161.62" height="124.38" stroke="#000"/>
<path stroke="#000" d="M143.1 1076.25v10.31M169.82 1076.25v10.31M196.55 1076.25v10.31M223.27 1076.25v10.31M249.99 1076.25v10.31M276.72 1076.25v10.31M143.1 1076.25H276.72M123.75 1071.64h-10.31M123.75 1053.19h-10.31M123.75 1034.73h-10.31M123.75 1016.28h-10.31M123.75 997.82h-10.31M123.75 979.37h-10.31M123.75 960.91h-10.31M123.75 1071.64V960.91"/>
</g>
<g font-size="17.2" text-anchor="middle">
<text x="143.1" y="1113.67">10</text>
<text x="196.55" y="1113.67">20</text>
<text x="249.99" y="1113.67">30</text>
<text transform="translate(99.4 1072.24) rotate(-90)">0</text>
<text transform="translate(99.4 1016.88) rotate(-90)">150</text>
<text transform="translate(99.4 961.51) rotate(-90)">300</text>
<text x="277.77" y="979.08" text-anchor="end">2013</text>
</g>
<g fill="none" stroke-width="0.8">
<g clip-path="url(#c26)">
<g stroke="#000">
<circle cx="358.58" cy="1071.38" r="3.9"/>
<circle cx="363.93" cy="1070.5" r="3.9"/>
<circle cx="369.27" cy="1065.75" r="3.9"/>
<circle cx="374.62" cy="1055.5" r="3.9"/>
<circle cx="379.96" cy="1049.88" r="3.9"/>
<circle cx="385.3" cy="1050.12" r="3.9"/>
<circle cx="390.65" cy="1043.88" r="3.9"/>
<circle cx="395.99" cy="1014.88" r="3.9"/>
<circle cx="401.34" cy="993.25" r="3.9"/>
<circle cx="406.68" cy="1000.75" r="3.9"/>
<circle cx="412.03" cy="1024.5" r="3.9"/>
<circle cx="417.37" cy="1035.38" r="3.9"/>
<circle cx="422.72" cy="1045.38" r="3.9"/>
<circle cx="428.06" cy="1044.88" r="3.9"/>
<circle cx="433.41" cy="1048.88" r="3.9"/>
<circle cx="438.75" cy="1059.12" r="3.9"/>
<circle cx="444.1" cy="1065.12" r="3.9"/>
<circle cx="449.44" cy="1070.12" r="3.9"/>
<circle cx="454.79" cy="1071.38" r="3.9"/>
<circle cx="460.13" cy="1071.62" r="3.9"/>
<circle cx="465.48" cy="1071.64" r="3.9"/>
<circle cx="470.82" cy="1071.64" r="3.9"/>
<circle cx="476.17" cy="1071.64" r="3.9"/>
<circle cx="481.51" cy="1071.64" r="3.9"/>
<circle cx="486.85" cy="1071.64" r="3.9"/>
<circle cx="492.2" cy="1071.64" r="3.9"/>
<circle cx="497.54" cy="1071.64" r="3.9"/>
<circle cx="502.89" cy="1071.64" r="3.9"/>
</g>
<polyline stroke="#000" points="358.58,1068.88 363.93,1063.88 369.27,1058.25 374.62,1054.5 379.96,1053.25 385.3,1049.5 390.65,1037 395.99,1014.5 401.34,996.38 406.68,1000.75 412.03,1020.75 417.37,1034.5 422.72,1043.25 428.06,1050.75 433.41,1058.25 438.75,1063.25 444.1,1068.25 449.44,1070.5 454.79,1071.38 460.13,1071.64 465.48,1071.64 470.82,1071.64 476.17,1071.64 481.51,1071.64 486.85,1071.64 492.2,1071.64 497.54,1071.64 502.89,1071.64"/>
<g stroke="#f00">
<circle cx="353.24" cy="1070.12" r="3.9"/>
<circle cx="358.58" cy="1067.38" r="3.9"/>
<circle cx="363.93" cy="1029.88" r="3.9"/>
<circle cx="369.27" cy="964.5" r="3.9"/>
<circle cx="374.62" cy="956.38" r="3.9"/>
<circle cx="379.96" cy="1018.5" r="3.9"/>
<circle cx="385.3" cy="1057.38" r="3.9"/>
<circle cx="390.65" cy="1067.38" r="3.9"/>
<circle cx="395.99" cy="1062.62" r="3.9"/>
<circle cx="401.34" cy="1050.12" r="3.9"/>
<circle cx="406.68" cy="1036.75" r="3.9"/>
<circle cx="412.03" cy="1043.5" r="3.9"/>
<circle cx="417.37" cy="1053.88" r="3.9"/>
<circle cx="422.72" cy="1057.62" r="3.9"/>
<circle cx="428.06" cy="1060.5" r="3.9"/>
<circle cx="433.41" cy="1060.75" r="3.9"/>
<circle cx="438.75" cy="1063.88" r="3.9"/>
<circle cx="444.1" cy="1065.12" r="3.9"/>
<circle cx="449.44" cy="1070.12" r="3.9"/>
<circle cx="454.79" cy="1071.38" r="3.9"/>
<circle cx="460.13" cy="1071.62" r="3.9"/>
<circle cx="465.48" cy="1071.64" r="3.9"/>
<circle cx="470.82" cy="1071.64" r="3.9"/>
<circle cx="476.17" cy="1071.64" r="3.9"/>
<circle cx="481.51" cy="1071.64" r="3.9"/>
</g>
<polyline stroke="#f00" points="353.24,1067 358.58,1058.25 363.93,1049.25 369.27,1051.38 374.62,1063.25 379.96,1068.25 385.3,1067.62 390.65,1053.25 395.99,1042.62 401.34,1040.75 406.68,1053.25 412.03,1058.25 417.37,1052 422.72,1049.5 428.06,1055.75 433.41,1061.38 438.75,1065.12 444.1,1068.88 449.44,1070.75 454.79,1071.62 460.13,1071.64 465.48,1071.64 470.82,1071.64 476.17,1071.64 481.51,1071.64"/>
</g>
<rect x="347.25" y="951.88" width="161.62" height="124.38" stroke="#000"/>
<path stroke="#000" d="M366.6 1076.25v10.31M393.32 1076.25v10.31M420.05 1076.25v10.31M446.77 1076.25v10.31M473.49 1076.25v10.31M500.22 1076.25v10.31M366.6 1076.25H500.22M347.25 1071.64h-10.31M347.25 1041.04h-10.31M347.25 1010.43h-10.31M347.25 979.82h-10.31M347.25 1071.64V979.82"/>
</g>
<g font-size="17.2" text-anchor="middle">
<text x="366.6" y="1113.67">10</text>
<text x="420.05" y="1113.67">20</text>
<text x="473.49" y="1113.67">30</text>
<text transform="translate(322.9 1072.24) rotate(-90)">0</text>
<text transform="translate(322.9 1011.03) rotate(-90)">400</text>
<text x="501.27" y="979.08" text-anchor="end">2014</text>
</g>
<g fill="none" stroke-width="0.8">
<g clip-path="url(#c27)">
<g stroke="#f00">
<circle cx="576.74" cy="1071.62" r="3.9"/>
<circle cx="582.97" cy="1070.12" r="3.9"/>
<circle cx="589.21" cy="1063.62" r="3.9"/>
<circle cx="595.44" cy="1056.62" r="3.9"/>
<circle cx="601.68" cy="1053.88" r="3.9"/>
<circle cx="607.91" cy="1059.88" r="3.9"/>
<circle cx="614.15" cy="1064.75" r="3.9"/>
<circle cx="620.38" cy="1046.38" r="3.9"/>
<circle cx="626.62" cy="1002" r="3.9"/>
<circle cx="632.86" cy="957.62" r="3.9"/>
<circle cx="639.09" cy="956.38" r="3.9"/>
<circle cx="645.33" cy="1024.5" r="3.9"/>
<circle cx="651.56" cy="1037.62" r="3.9"/>
<circle cx="657.8" cy="1044.25" r="3.9"/>
<circle cx="664.03" cy="1053.62" r="3.9"/>
<circle cx="670.27" cy="1057" r="3.9"/>
<circle cx="676.5" cy="1046.62" r="3.9"/>
<circle cx="682.74" cy="1063.25" r="3.9"/>
<circle cx="688.98" cy="1067.88" r="3.9"/>
<circle cx="695.21" cy="1070.5" r="3.9"/>
<circle cx="701.45" cy="1071.12" r="3.9"/>
<circle cx="707.68" cy="1071.62" r="3.9"/>
<circle cx="713.92" cy="1071.64" r="3.9"/>
<circle cx="720.15" cy="1071.64" r="3.9"/>
<circle cx="726.39" cy="1071.64" r="3.9"/>
</g>
<polyline stroke="#f00" points="576.74,1071.62 582.97,1069.75 589.21,1067.62 595.44,1068 601.68,1069.5 607.91,1070.12 614.15,1060.12 620.38,1030.12 626.62,987.62 632.86,979.25 639.09,1020.12 645.33,1052.62 651.56,1063.25 657.8,1065.12 664.03,1067.12 670.27,1069 676.5,1070.12 682.74,1071.12 688.98,1071.62 695.21,1071.64 701.45,1071.64 707.68,1071.64 713.92,1071.64 720.15,1071.64 726.39,1071.64"/>
</g>
<rect x="570.75" y="951.88" width="161.62" height="124.38" stroke="#000"/>
<path stroke="#000" d="M592.32 1076.25v10.31M623.5 1076.25v10.31M654.68 1076.25v10.31M685.86 1076.25v10.31M717.04 1076.25v10.31M592.32 1076.25H717.04M570.75 1071.64h-10.31M570.75 1053.25h-10.31M570.75 1034.85h-10.31M570.75 1016.45h-10.31M570.75 998.06h-10.31M570.75 979.66h-10.31M570.75 961.26h-10.31M570.75 1071.64V961.26"/>
</g>
<g font-size="17.2" text-anchor="middle">
<text x="592.32" y="1113.67">10</text>
<text x="654.68" y="1113.67">20</text>
<text x="717.04" y="1113.67">30</text>
<text transform="translate(546.4 1072.24) rotate(-90)">0</text>
<text transform="translate(546.4 1017.05) rotate(-90)">300</text>
<text transform="translate(546.4 961.86) rotate(-90)">600</text>
<text x="724.77" y="979.08" text-anchor="end">2015</text>
</g>
<text x="641.25" y="1165" font-size="25.95" text-anchor="middle">Length</text>
<text transform="translate(47.5 558.75) rotate(-90)" font-size="25.95" text-anchor="middle">Observation</text>
</svg></body></html>
